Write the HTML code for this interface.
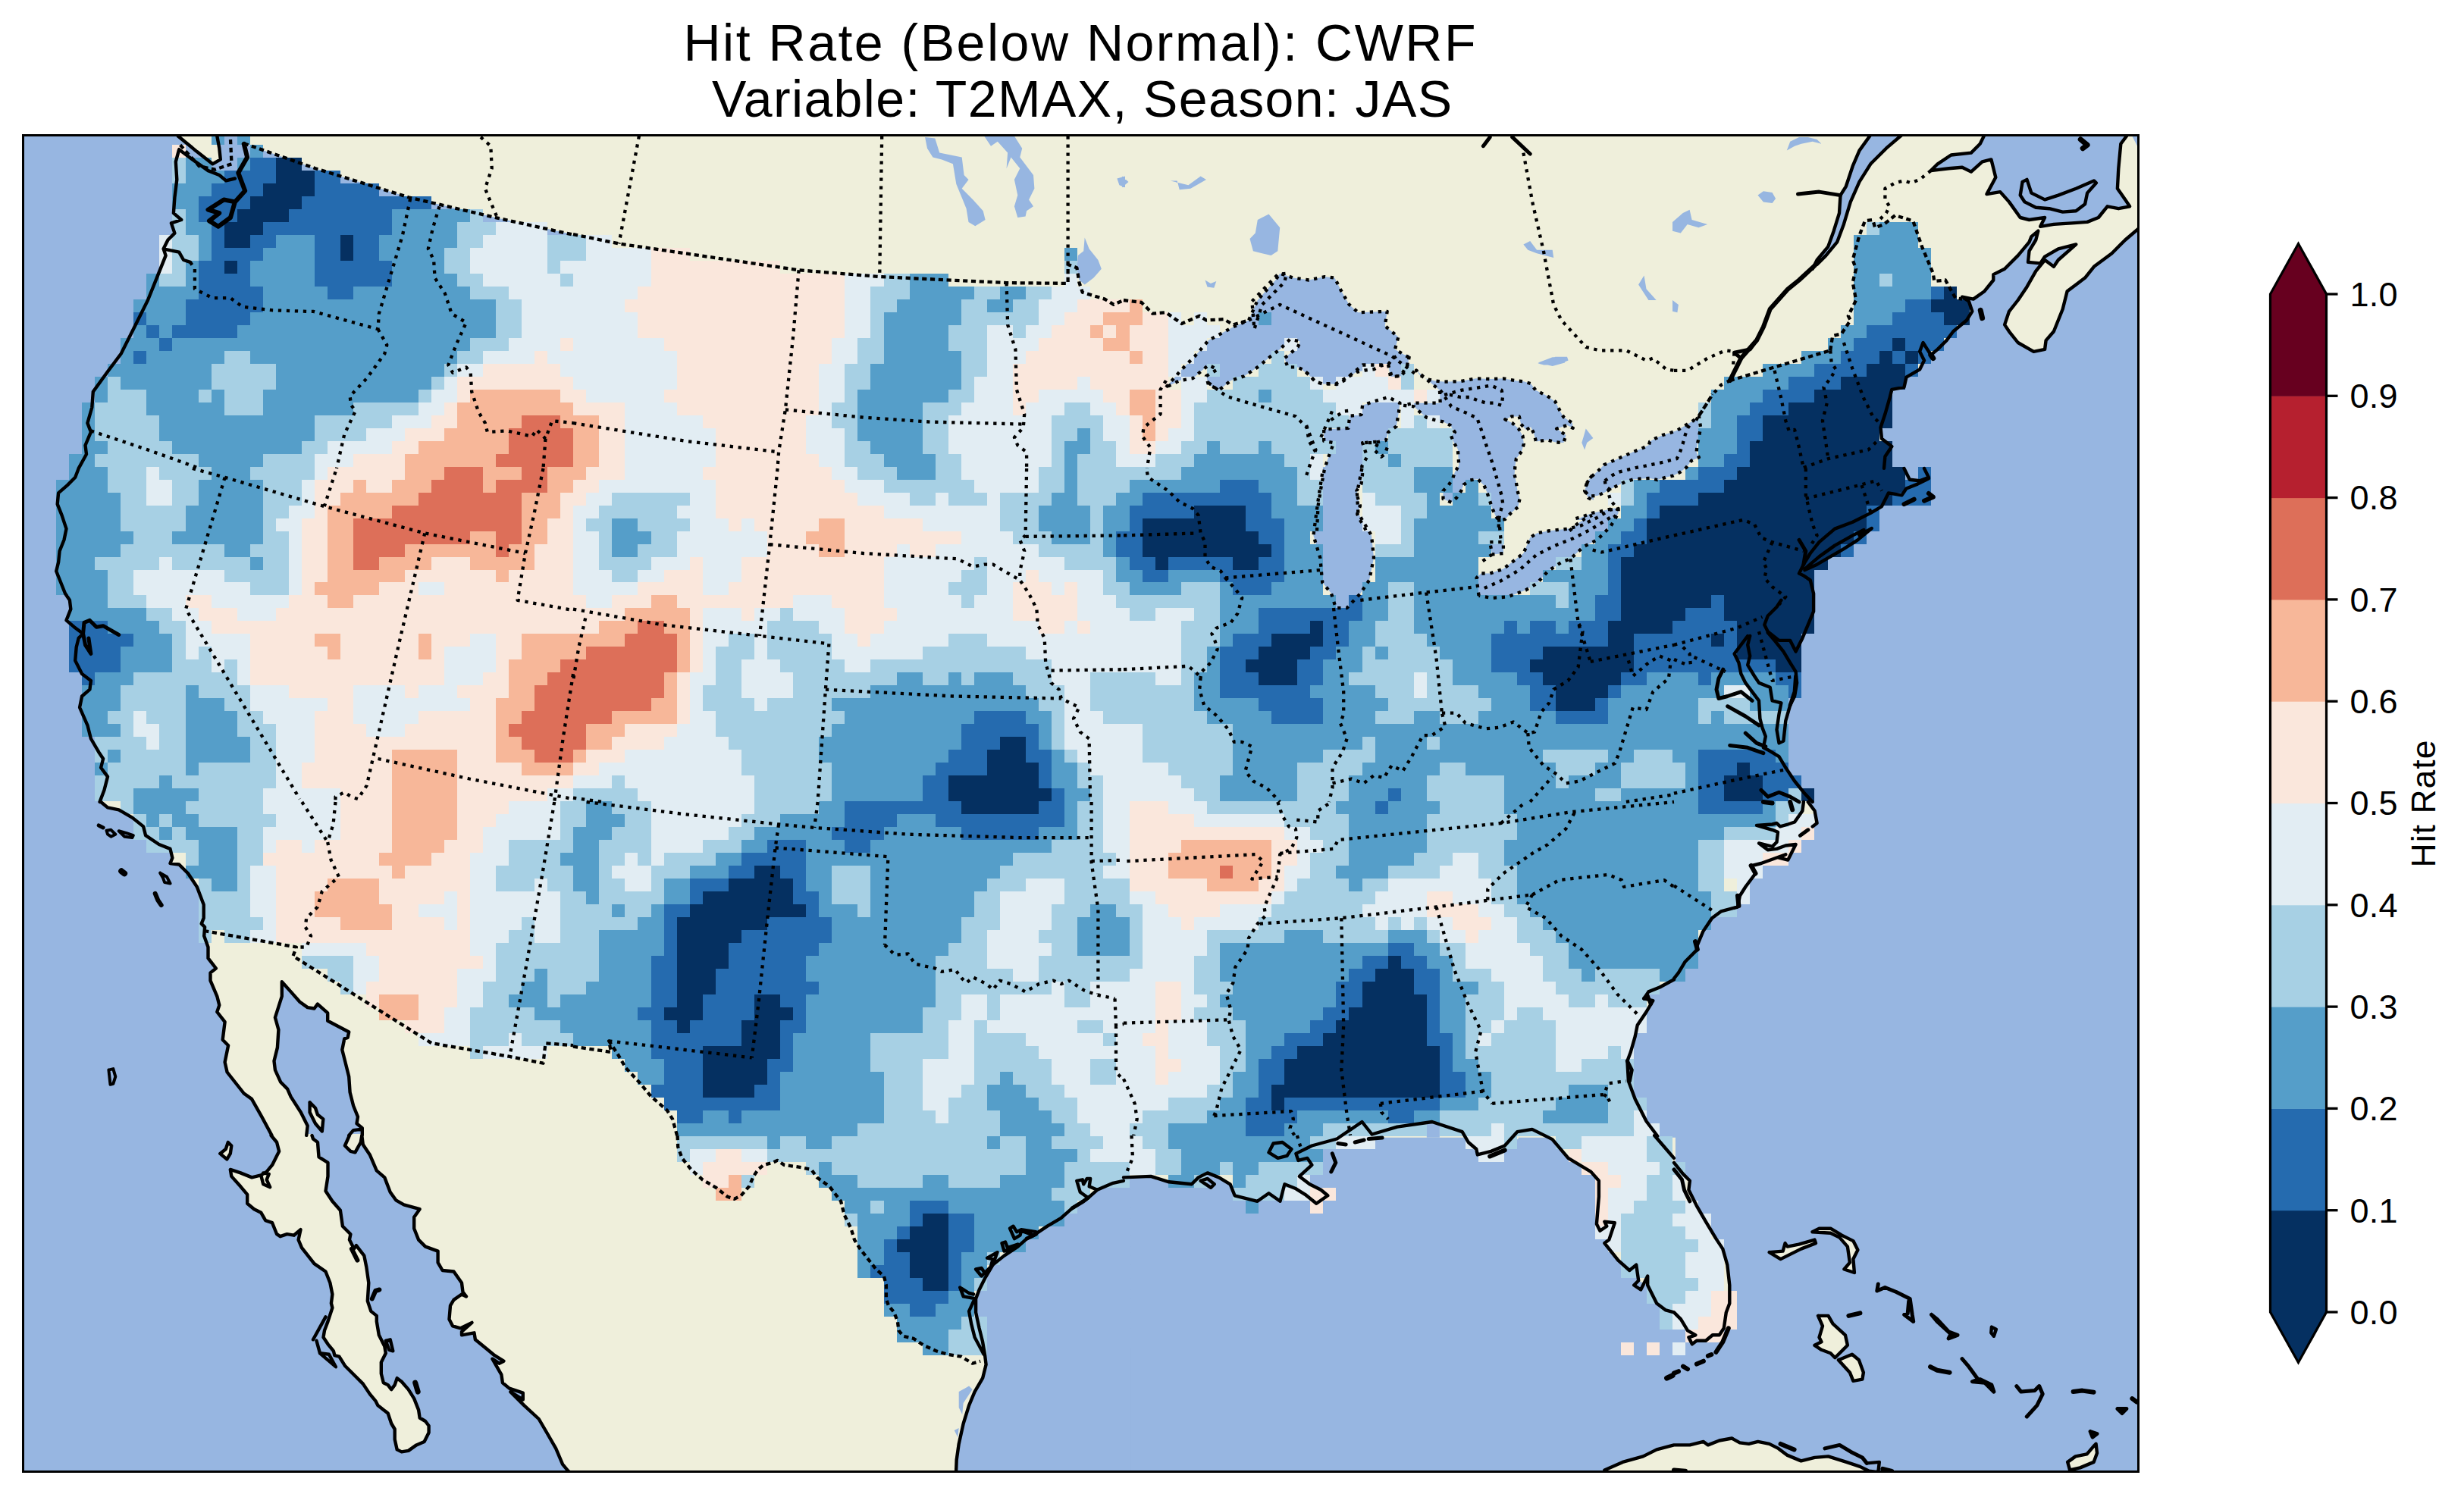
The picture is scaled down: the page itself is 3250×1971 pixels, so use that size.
<!DOCTYPE html>
<html><head><meta charset="utf-8"><title>Hit Rate</title>
<style>
html,body{margin:0;padding:0;background:#fff}
body{width:3250px;height:1971px;position:relative;overflow:hidden}
text{font-family:"Liberation Sans",sans-serif;fill:#000}
.tk{font-size:45px}
.lb{font-size:44.5px}
.tt{font-size:68px}
</style></head><body>
<svg width="3250" height="1971" viewBox="0 0 3250 1971" style="position:absolute;left:0;top:0">
<defs><clipPath id="ax"><rect x="30.5" y="178.5" width="2790.0" height="1763.0"/></clipPath></defs>
<g clip-path="url(#ax)">
<rect x="30.5" y="178.5" width="2790.0" height="1763.0" fill="#97b6e1"/>
<path fill="#efefdb" d="M1858.8 468L2102 468L2102 702.3L1977.6 702.3L1977.6 685.9L1954.4 562.5L1905.1 531.7L1874.2 508.6L1868.1 488.5ZM1905.1 520.9L1928.2 514.7L1948.3 511.6L1966.8 508.6L1980.6 514.7L1982.2 522.4L1980.6 534.8L1969.8 531.7L1960.6 531.7L1949.8 528.6L1939 524L1926.7 524L1912.8 520.9ZM2038 518L2312 518L2312 686L2038 686ZM286.3 176L289.3 195.7L290.8 210.4L280.4 216.3L259.8 200.1L234.8 176ZM321.7 176L758 176L758 309.7L656.1 287.6L539.7 260.5L416 222.2L321.7 189.2ZM758 1056L758 1499.9L477.8 1499.9L477.8 1488.2L470.5 1482.3L472 1473.4L466.1 1458.7L461.6 1441L460.2 1420.4L455.8 1402.7L451.3 1385L454.3 1370.3L458.7 1368.8L460.2 1361.5L432.2 1346.7L432.2 1336.4L418.9 1324.6L414.5 1330.5L405.7 1329.1L395.4 1321.7L383.6 1308.4L371.8 1295.2L371.8 1314.3L362.9 1342.3L367.4 1358.5L365.9 1382.1L361.5 1399.8L362.9 1411.6L370.3 1427.8L379.1 1436.6L383.6 1446.9L396.8 1467.5L405.7 1485.2L404.2 1499.9L358.5 1499.9L345.3 1473.4L332 1449.9L321.7 1442.5L299.6 1414.5L296.6 1401.3L301.1 1379.2L293.7 1371.8L296.6 1348.2L286.3 1335L289.3 1326.1L286.3 1314.3L277.5 1293.7L277.5 1283.4L284.9 1277.5L274.5 1264.2L274.5 1249.5L269.2 1234.8L270.1 1223L265.7 1218.6L268.7 1211.2L268.7 1193.5L259.8 1170L248 1152.3L236.2 1140.5L224.5 1139L227.4 1131.7L224.5 1119.9L209.7 1114L192.1 1102.2L189.1 1090.4L174.4 1078.6L156.7 1068.3L142 1065.4L133.1 1056ZM408.6 1454.3L416 1461.7L418.9 1470.5L426.3 1476.4L424.8 1492.6L416 1482.3L408.6 1467.5ZM269.2 1231.8L390.9 1252.5L386.5 1262.8L569.2 1379.2L672.3 1396.8L716.5 1405.7L720.9 1380.6L758 1382.1L758 1499.9L477.8 1499.9L477.8 1488.2L470.5 1482.3L472 1473.4L466.1 1458.7L461.6 1441L460.2 1420.4L455.8 1402.7L451.3 1385L454.3 1370.3L458.7 1368.8L460.2 1361.5L432.2 1346.7L432.2 1336.4L418.9 1324.6L414.5 1330.5L405.7 1329.1L395.4 1321.7L383.6 1308.4L371.8 1295.2L371.8 1314.3L362.9 1342.3L367.4 1358.5L365.9 1382.1L361.5 1399.8L362.9 1411.6L370.3 1427.8L379.1 1436.6L383.6 1446.9L396.8 1467.5L405.7 1485.2L404.2 1499.9L358.5 1499.9L345.3 1473.4L332 1449.9L321.7 1442.5L299.6 1414.5L296.6 1401.3L301.1 1379.2L293.7 1371.8L296.6 1348.2L286.3 1335L289.3 1326.1L286.3 1314.3L277.5 1293.7L277.5 1283.4L284.9 1277.5L274.5 1264.2L274.5 1249.5ZM411.5 1496L413 1502.5L419 1507L420.5 1526.4L432.5 1533.9L432.5 1551.9L429.5 1571.3L438.4 1584.8L448.9 1596.7L451.9 1617.7L462.4 1628.2L460.9 1635.6L466.9 1647.6L469.9 1643.1L480.3 1656.6L483.3 1671.5L486.3 1692.5L484.8 1716.4L489.3 1729.9L496.8 1735.9L496.8 1743.4L499.8 1761.3L507.3 1776.3L508.8 1785.3L502.8 1797.2L502.8 1812.2L505.8 1824.2L511.7 1827.1L516.2 1833.1L520.7 1827.1L523.7 1818.2L529.7 1822.7L538.7 1833.1L546.2 1845.1L552.1 1860.1L553.6 1870.5L561.1 1875L565.6 1881L565.6 1890L559.6 1901.9L549.2 1906.4L538.7 1913.9L529.7 1915.4L523.7 1912.4L520.7 1899L520.7 1885.5L516.2 1878L511.7 1864.5L498.3 1854.1L495.3 1848.1L487.8 1839.1L478.8 1825.6L466.9 1813.7L454.9 1801.7L447.4 1789.7L441.4 1788.2L439.9 1782.3L432.5 1773.3L426.5 1764.3L428 1755.3L432.5 1743.4L438.4 1725.4L436.9 1719.4L438.4 1707.5L435.4 1692.5L429.5 1677.5L414.5 1667.1L398 1646.1L393.6 1635.6L396.5 1622.2L387.6 1629.7L378.6 1628.2L369.6 1631.2L365.1 1628.2L359.1 1613.2L350.2 1610.2L344.2 1599.7L335.2 1595.2L326.2 1587.8L326.2 1575.8L317.3 1565.3L305.3 1551.9L303.8 1542.9L317.3 1547.4L332.2 1553.4L344.2 1550.4L351.7 1545.9L359.1 1536.9L368.1 1518.9L365.1 1507L357.6 1496ZM757.9 1496L757.9 1947L749.6 1940.8L742.1 1931.9L733.2 1910.9L721.2 1890L710.7 1872L691.3 1854.1L673.3 1836.1L689.8 1846.6L689.8 1837.6L671.8 1831.6L662.9 1824.2L661.4 1813.7L649.4 1792.7L658.4 1798.7L664.4 1795.7L652.4 1788.2L643.4 1780.8L626.9 1767.3L625.5 1758.3L609 1761.3L609 1756.8L622.5 1744.9L607.5 1752.3L597 1749.3L592.5 1740.4L594 1722.4L598.5 1714.9L609 1707.5L615 1710.4L610.5 1704.5L609 1692.5L598.5 1677.5L583.6 1676L577.6 1665.6L577.6 1650.6L561.1 1644.6L552.1 1635.6L546.2 1620.7L546.2 1605.7L553.6 1595.2L532.7 1589.3L522.2 1583.3L514.7 1572.8L507.3 1553.4L496.8 1544.4L487.8 1523.4L478.8 1510L477.3 1496ZM477.3 1496L475.8 1507L468.4 1520.4L462.4 1518.9L454.9 1511.5L460.9 1496ZM305.3 1511.5L303.8 1521.9L299.3 1529.4L290.3 1521.9L297.8 1516L300.8 1507ZM754 176L1484 176L1484 620.8L754 620.8ZM754 176L1484 176L1484 396L1469 401.9L1457.2 394.6L1426.3 384.2L1420.4 354.8L1420.4 325.3L1402.7 325.3L1402.7 373.9L1327.6 373.1L1161.1 365.1L1053.6 356.3L816.4 321.5L754 309.1ZM754 616L1484 616L1484 1060.8L754 1060.8ZM754 1056L1484 1056L1484 1500.8L754 1500.8ZM754 1380.6L806.1 1388L814.9 1390.9L825.2 1408.6L844.4 1429.2L859.1 1446.9L879.7 1464.6L887.1 1476.4L893 1500.8L754 1500.8ZM754 1496L1483.9 1496L1483.9 1947L754 1947ZM1480 176L2210 176L2210 620.8L1480 620.8ZM1480 176L2210 176L2210 619.9L1968.2 619.9L1947.5 561L1918.1 525.7L1873.9 502.1L1870.9 496.2L1835.6 469.7L1688.2 401.9L1647 422.5L1626.4 428.4L1614.6 421.1L1591 422.5L1582.2 416.7L1558.6 427L1538 412.2L1520.3 413.7L1505.6 399L1480 396ZM1480 616L2210 616L2210 1060.8L1480 1060.8ZM1991.7 674L2003.5 656.3L2006.5 616L2130.2 616L2115.5 623.9L2097.8 632.7L2089 647.5L2100.7 656.3L2119.9 650.4L2127.3 656.3L2134.6 671L2124.3 672.5L2106.6 682.8L2086 693.1L2068.3 697.6L2041.8 700.5L2027.1 703.4L2018.2 709.3L2009.4 730L1982.9 750.6L1965.2 756.5L1953.4 756.5L1953.4 741.7L1968.2 732.9L1982.9 715.2L1979.9 684.3ZM1480 1056L2210 1056L2210 1500.8L1480 1500.8ZM1480 1496L1784.2 1496L1763.3 1502.5L1730.4 1511.5L1709.4 1521.9L1712.4 1530.9L1724.4 1527.9L1730.4 1536.9L1713.9 1551.9L1727.4 1562.3L1742.3 1569.8L1751.3 1577.3L1736.3 1587.8L1721.4 1575.8L1709.4 1568.3L1694.4 1562.3L1688.5 1584.8L1673.5 1574.3L1658.5 1584.8L1628.6 1577.3L1622.6 1562.3L1607.7 1553.4L1592.7 1547.4L1580.7 1553.4L1571.8 1562.3L1541.8 1559.3L1517.9 1551.9L1480 1553.4ZM2004.1 1496L2002.6 1502.5L1984.7 1511.5L1966.7 1518.9L1948.8 1521.9L1936.8 1507L1927.8 1496ZM2209.9 1496L2209.9 1731.4L2185.2 1719.4L2173.2 1695.5L2161.2 1689.5L2158.2 1668.6L2149.3 1676L2134.3 1662.6L2116.4 1640.1L2122.3 1635.6L2129.8 1613.2L2116.4 1611.7L2119.3 1617.7L2110.4 1623.7L2105.9 1614.7L2108.9 1578.8L2108.9 1557.8L2098.4 1545.9L2068.5 1527.9L2038.6 1496ZM2116.4 1939.4L2140.3 1928.9L2167.2 1921.4L2185.2 1912.4L2209.9 1906.4L2209.9 1947L2116.4 1947ZM2206 176L2820.6 176L2820.6 619.9L2206 619.9ZM2589.6 354.8L2644.1 354.8L2629.3 362.1L2629.3 369.5L2617.5 384.2L2602.8 394.6L2589.6 391.6ZM2667.6 239.9L2673.5 236.9L2679.4 254.6L2697.1 263.4L2714.8 257.6L2738.3 248.7L2761.9 238.4L2764.9 241.3L2753.1 254.6L2750.1 269.3L2738.3 278.2L2720.7 279.6L2703 275.2L2685.3 273.8L2670.6 266.4L2664.7 257.6ZM2206 1056L2384.8 1056L2393.6 1069.8L2396.6 1086L2368.6 1114L2358.3 1134.6L2322.9 1139L2315.5 1152.3L2302.3 1170L2294.9 1181.7L2292 1196.5L2269.9 1202.4L2258.1 1211.2L2246.3 1228.9L2238.9 1246.6L2237.5 1253.9L2222.7 1268.7L2213.9 1283.4L2206 1290.8ZM2206 1533.9L2220 1548.9L2228.9 1557.8L2227.4 1569.8L2237.9 1590.8L2249.9 1611.7L2263.4 1634.1L2272.3 1647.6L2278.3 1668.6L2281.3 1695.5L2281.3 1719.4L2276.8 1731.4L2273.8 1752.3L2267.8 1761.3L2258.9 1761.3L2249.9 1768.8L2237.9 1768.8L2231.9 1773.3L2227.4 1764.3L2226 1755.3L2217 1740.4L2206 1731.4ZM2206 1906.4L2228.9 1906.4L2246.9 1901.9L2252.9 1906.4L2267.8 1900.5L2284.3 1897.5L2294.8 1903.4L2306.7 1904.9L2318.7 1901.9L2333.7 1904.9L2345.6 1910.9L2357.6 1919.9L2375.6 1927.4L2393.5 1922.9L2411.5 1921.4L2435.4 1928.9L2453.4 1934.9L2465.3 1940.8L2495.3 1947L2206 1947ZM2351.6 1650.6L2354.6 1640.1L2357.6 1644.6L2372.6 1641.6L2393.5 1635.6L2395 1640.1L2375.6 1647.6L2348.6 1661.1L2333.7 1652.1ZM2390.5 1625.2L2399.5 1620.7L2414.5 1620.7L2429.4 1629.7L2444.4 1637.1L2450.4 1649.1L2444.4 1661.1L2445.9 1679L2432.4 1674.5L2439.9 1665.6L2436.9 1644.6L2426.4 1632.6L2414.5 1626.7ZM2398 1735.9L2411.5 1735.9L2417.5 1746.4L2433.9 1761.3L2436.9 1774.8L2420.4 1791.2L2414.5 1785.3L2402.5 1780.8L2393.5 1774.8L2402.5 1770.3L2399.5 1764.3L2404 1749.3ZM2424.9 1794.2L2442.9 1786.7L2451.9 1794.2L2457.9 1810.7L2456.4 1819.7L2444.4 1821.8L2439.9 1810.7ZM2727.2 1928.9L2737.6 1921.4L2752.6 1918.4L2761.6 1907.9L2764.6 1904.9L2766 1916.9L2761.6 1928.9L2743.6 1936.4L2730.1 1939.4Z"/>
<path fill="#97b6e1" d="M1718 468L1858.8 468L1857.3 479.3L1854.2 488.5L1848 496.2L1834.1 497L1831 480.8L1821.8 482.3L1812.5 487L1800.2 488.5L1789.4 490.8L1780.1 496.2L1772.4 502.4L1763.2 507L1753.2 506.2L1743.1 506.2L1734.7 503.2L1727.7 495.4L1718 488.5ZM1737 702.3L1738.5 667.4L1743.1 639.6L1747 618.8L1752.4 602.6L1759.3 584.1L1746.2 581.8L1746.2 566.4L1778.6 564.8L1780.1 548.7L1795.6 547.1L1797.1 534.8L1812.5 529.4L1831 524L1846.5 531.7L1844.9 544L1841.8 562.5L1831 570.2L1828 581L1812.5 584.1L1797.1 584.1L1803.3 602.6L1796.3 615L1797.1 625.8L1795.6 638.1L1789.4 647.4L1790.9 656.6L1794 667.4L1790.2 678.2L1794.8 687.5L1800.2 696.7L1801.7 702.3ZM1865 531.7L1899.7 531.7L1898.9 514.7L1881.9 500.8L1868.1 488.5L1872.7 494.7L1881.9 500.1L1892.7 502.4L1903.5 503.6L1925.1 503.2L1946.7 499.3L1966.8 500.1L1982.2 499.3L2000.7 502.4L2009.9 503.2L2019.2 506.2L2025.4 514.7L2040.8 522.4L2051.6 530.1L2057.8 542.5L2062.4 550.2L2073.9 557.9L2074.7 564.8L2067 561L2053.1 565.6L2065.5 574.1L2062.4 584.1L2051.6 583.4L2040.8 580.3L2026.1 582.6L2023.1 571.8L2019.2 563.3L2013 567.2L2006.1 559.5L2003.8 549.4L1993.8 549.4L1985.3 553.3L1994.5 557.9L2003 565.6L2008.4 574.9L2009.9 585.7L2006.9 595.7L1999.9 604.9L1998.4 615L1997.6 625.8L1999.9 636.6L2001.5 647.4L2004.5 658.2L2002.2 669L1993 676.7L1985.3 685.1L1976.8 685.9L1972.9 681.3L1968.3 670.5L1965.2 661.2L1961.4 649.7L1957.5 640.4L1949 631.9L1939 633.5L1930.5 639.6L1927.4 647.4L1921.3 656.6L1914.3 662.8L1903.5 658.2L1903.5 647.4L1910.5 640.4L1915.9 631.9L1919 622.7L1924.3 614.2L1923.6 603.4L1922.8 592.6L1917.4 583.4L1913.6 574.1L1919 570.2L1912.8 561L1903.5 556.4L1892.7 554.1L1881.9 551L1874.2 544.8L1865 536.3L1851.1 534.8ZM2070.1 702.3L2079.3 692.1L2090.1 684.4L2102 679.7L2102 702.3ZM2102 659.7L2094.8 656.6L2090.1 647.4L2094.8 633.5L2102 627.3ZM2091.7 565.6L2101.4 578L2093.2 584.1L2090.1 593.4L2086.3 584.1L2088.6 576.4ZM2028.5 479.3L2040.8 474.6L2051.6 470.8L2067 470.8L2068.6 475.4L2059.3 479.3L2047 481.6L2036.2 481.6ZM2092.7 637.5L2099.3 628.7L2108.1 621L2115.7 613.3L2125.6 608.9L2135.5 604.5L2145.4 600.1L2155.3 595.7L2165.1 591.9L2175 587L2176.1 582.6L2183.8 578.2L2193.7 573.8L2201.4 571.6L2211.2 568.3L2222.2 561.7L2233.2 555.1L2240.9 548.5L2243.1 563.9L2240.9 577.1L2238.7 585.9L2237.6 596.8L2240.9 603.4L2231 607.8L2224.4 616.6L2215.6 623.2L2206.8 627.6L2197 629.8L2186 633.1L2176.1 630.9L2165.1 631.4L2154.2 632.5L2143.2 635.8L2133.3 640.7L2123.4 645.7L2116.8 649.5L2107 653.9L2096 654.5L2090.5 647.9ZM2078.4 686L2088.3 681.4L2099.3 677L2110.3 674.8L2120.1 672.6L2130 670.4L2134.4 672.6L2130 681.4L2125.6 686ZM1220.1 180.9L1233.3 182.4L1239.2 201.6L1253.9 204.5L1268.7 207.5L1271.6 231L1277.5 236.9L1268.7 248.7L1283.4 263.4L1296.7 278.2L1299.6 290L1286.3 298.2L1277.5 292.9L1274.6 275.2L1261.3 242.8L1256.9 216.3L1242.2 210.4L1230.4 207.5L1223 195.7ZM1298.1 179.5L1337.9 179.5L1348.2 195.7L1345.3 207.5L1363 231L1364.4 248.7L1357.1 263.4L1363 272.3L1354.1 278.2L1352.6 285.5L1342.3 287L1337.9 272.3L1342.3 257.6L1337.9 236.9L1345.3 222.2L1333.5 207.5L1327.6 222.2L1329.1 201.6L1315.8 186.8L1307 192.7ZM1430.7 313.5L1436.6 328.3L1448.4 343L1452.8 354.8L1442.5 366.6L1430.7 375.4L1423.4 369.5L1420.4 354.8L1421.9 337.1L1429.2 331.2ZM1473.4 235.5L1484 232.5L1484 247.2L1476.4 244.3ZM1491.1 1947L1261.1 1947L1261.7 1925.9L1264.7 1904.9L1270.7 1878L1278.1 1854.1L1285.6 1836.1L1296.1 1818.2L1300.6 1800.2L1299.1 1788.2L1296.1 1770.3L1291.6 1752.3L1287.1 1731.4L1287.1 1713.4L1291.6 1701.5L1299.1 1686.5L1309.6 1668.6L1324.5 1656.6L1342.5 1644.6L1354.4 1634.1L1363.4 1629.7L1381.4 1617.7L1399.3 1607.2L1414.3 1593.8L1435.2 1580.3L1447.2 1569.8L1468.1 1560.8L1491.1 1556.3ZM1264.7 1836.1L1278.1 1828.6L1282.6 1833.1L1270.7 1851.1L1269.2 1866L1264.7 1857.1ZM1258.7 1887L1264.7 1884L1263.2 1896ZM1538 510.9L1558.6 487.4L1576.3 469.7L1594 449.1L1626.4 431.4L1647 422.5L1658.8 396L1682.4 369.5L1688.2 360.7L1705.9 366.6L1726.5 369.5L1747.2 365.1L1760.4 366.6L1769.3 384.2L1779.6 401.9L1791.4 412.2L1829.7 410.8L1826.7 429.9L1844.4 444.6L1840 460.9L1857.7 471.2L1856.2 481.5L1847.4 496.2L1835.6 496.2L1831.1 481.5L1814.9 481.5L1797.3 481.5L1779.6 496.2L1761.9 506.5L1744.2 506.5L1734.5 503L1728 496.2L1720.1 488.5L1711.8 484.4L1698.6 484.4L1694.1 472.6L1711.8 457.9L1714.8 450.5L1701.5 447.6L1688.2 460.9L1676.5 469.7L1658.8 484.4L1641.1 496.2L1623.4 502.1L1608.7 513.9L1594 508L1591 496.2L1605.7 487.4L1594 481.5L1573.3 499.2L1555.7 502.1ZM1658.8 290L1673.5 282.6L1688.2 300.3L1685.3 331.2L1676.5 337.1L1664.7 334.2L1652.9 331.2L1648.5 315L1655.8 307.6ZM1567.4 244.3L1583.6 232.5L1591 236.9L1570.4 248.7L1555.7 250.2L1552.7 238.4L1543.9 238.4ZM2009.4 322.4L2018.2 318L2027.1 329.7L2047.7 329.7L2049.2 340.1L2027.1 334.2L2015.3 329.7ZM2028.6 478.5L2047.7 471.2L2066.9 471.2L2063.9 478.5L2047.7 482.9ZM2168.5 363.6L2171.5 381.3L2184.7 396L2174.4 396L2161.1 375.4ZM1589.5 369.5L1596.9 373.9L1604.3 371L1601.3 379.8L1592.5 378.4ZM1480 232.5L1488.5 239.9L1480 247.2ZM1745.1 616L1796.4 616L1789.9 650.4L1791.4 676.9L1809 706.4L1812 735.9L1806.1 765.3L1794.3 783L1776.6 802.1L1761.9 802.1L1756 783L1744.2 768.3L1741.3 735.9L1732.4 706.4L1738.3 662.2ZM1950.5 785.9L1947.5 762.4L1953.4 756.5L1965.2 756.5L1982.9 750.6L2009.4 730L2018.2 709.3L2027.1 703.4L2041.8 700.5L2068.3 697.6L2086 693.1L2106.6 682.8L2124.3 672.5L2134.6 671L2134.6 676.9L2124.3 694.6L2106.6 712.3L2089 721.1L2071.3 737.3L2059.5 741.7L2041.8 753.5L2027.1 769.7L2012.3 778.6L1988.8 787.4L1968.2 788.9ZM1965.2 715.2L1982.9 715.2L1982.9 730L1968.2 731.4ZM2210 1500.8L2186.2 1500.8L2171.5 1479.3L2156.7 1449.9L2147.9 1426.3L2146.4 1399.8L2150.8 1388L2156.7 1367.4L2159.7 1352.6L2171.5 1335L2180.3 1320.2L2168.5 1317.3L2174.4 1308.4L2189.1 1302.5L2210 1292.2ZM1881.8 1481.7L1898.9 1481.7L1898.9 1500.8L1881.8 1500.8ZM2485 619.9L2486.4 602.3L2495.3 589L2482 578.7L2480.5 564L2486.4 546.3L2492.3 525.7L2495.3 513.9L2511.5 510.9L2514.4 497.7L2532.1 487.4L2538 475.6L2532.1 463.8L2536.5 452L2546.8 468.2L2555.7 460.9L2567.5 449.1L2576.3 437.3L2594 422.5L2601.3 410.8L2596.9 397.5L2588.1 391.6L2602.8 394.6L2617.5 384.2L2629.3 369.5L2629.3 362.1L2644.1 354.8L2661.7 337.1L2676.5 319.4L2679.4 312.1L2688.3 304.7L2685.3 316.5L2676.5 331.2L2675 345.9L2691.2 347.4L2697.1 338.6L2714.8 328.3L2738.3 322.4L2714.8 343L2708.9 351.8L2697.1 343L2685.3 357.7L2673.5 378.4L2661.7 396L2650 410.8L2644.1 428.4L2650 437.3L2661.7 452L2682.4 463.8L2697.1 460.9L2698.6 449.1L2708.9 437.3L2720.7 407.8L2726.6 384.2L2738.3 375.4L2750.1 366.6L2761.9 351.8L2785.5 334.2L2803.2 316.5L2820.6 301.7L2820.6 619.9ZM2806.1 176L2797.3 189.8L2794.3 222.2L2792.9 248.7L2803.2 263.4L2809.1 272.3L2794.3 275.2L2779.6 272.3L2767.8 287L2753.1 292.9L2732.5 294.4L2708.9 295.9L2691.2 298.8L2697.1 287L2676.5 290L2664.7 287L2650 266.4L2638.2 253.1L2620.5 256.1L2632.3 234L2626.4 210.4L2614.6 213.4L2599.9 226.6L2588.1 220.7L2570.4 222.2L2546.8 225.1L2555.7 216.3L2573.4 204.5L2599.9 201.6L2611.7 189.8L2617.5 176ZM2508.5 176L2487.9 195.7L2467.3 216.3L2452.5 239.9L2440.8 266.4L2431.9 295.9L2423.1 319.4L2408.4 337.1L2396.6 348.9L2396.6 343L2411.3 325.3L2418.7 304.7L2426 281.1L2427.5 257.6L2434.9 245.8L2443.7 219.2L2452.5 198.6L2467.3 176ZM2810.5 176L2820.6 176L2820.6 195.7ZM2318.5 257.6L2325.9 252.2L2337.6 254L2342.1 262L2337.6 267.9L2325.9 266.4ZM2206 292.9L2219.8 281.1L2228.6 276.7L2231.6 290L2252.2 295.9L2240.4 300.3L2225.7 295.9L2216.8 307.6L2206 304.7ZM2356.8 198.6L2361.2 186.8L2373 180.9L2384.8 180.9L2396.6 183.9L2402.5 189.8L2390.7 186.8L2375.9 189.8L2367.1 192.7ZM2206 396L2213.9 401.9L2212.4 412.2L2206 410.8Z"/>
<g shape-rendering="crispEdges">
<path fill="#053061" d="M364 208h34v17h-34zM364 225h51v17h-51zM347 242h68v17h-68zM330 259h68v17h-68zM313 276h68v17h-68zM296 293h51v17h-51zM296 310h34v17h-34zM449 310h17v17h-17zM449 327h17v17h-17zM296 344h17v17h-17zM2564 378h17v17h-17zM2547 395h51v17h-51zM2564 412h34v17h-34zM2496 446h17v17h-17zM2479 463h17v17h-17zM2513 463h17v17h-17zM2462 480h51v17h-51zM2428 497h85v17h-85zM2393 514h103v17h-103zM2359 531h137v17h-137zM2325 548h171v17h-171zM2325 565h154v17h-154zM2308 582h188v17h-188zM2308 599h188v17h-188zM2291 616h222v17h-222zM2274 633h239v17h-239zM2240 650h256v17h-256zM1575 667h68v17h-68zM2189 667h273v17h-273zM1507 684h136v17h-136zM2172 684h290v17h-290zM1507 701h153v17h-153zM2172 701h273v17h-273zM1507 718h170v17h-170zM2155 718h273v17h-273zM1524 735h17v17h-17zM1626 735h34v17h-34zM2138 735h273v17h-273zM2138 752h255v16h-255zM2138 768h255v17h-255zM2138 785h119v17h-119zM2274 785h119v17h-119zM2138 802h85v17h-85zM2274 802h119v17h-119zM1728 819h17v17h-17zM2121 819h85v17h-85zM2291 819h102v17h-102zM1677 836h68v17h-68zM2121 836h34v17h-34zM2257 836h17v17h-17zM2291 836h85v17h-85zM1660 853h68v17h-68zM2035 853h120v17h-120zM2291 853h85v17h-85zM1643 870h68v17h-68zM2018 870h137v17h-137zM2342 870h34v17h-34zM1660 887h51v17h-51zM2035 887h103v17h-103zM2052 904h69v17h-69zM2052 921h52v17h-52zM1319 972h34v17h-34zM1302 989h51v17h-51zM1302 1006h68v17h-68zM2291 1006h17v17h-17zM1251 1023h119v17h-119zM2274 1023h51v17h-51zM1251 1040h136v17h-136zM2274 1040h51v17h-51zM2376 1040h17v17h-17zM1268 1057h102v17h-102zM995 1142h34v17h-34zM961 1159h85v17h-85zM927 1176h119v17h-119zM910 1193h153v17h-153zM893 1210h119v17h-119zM893 1227h85v17h-85zM893 1244h68v17h-68zM893 1261h68v17h-68zM1831 1261h17v17h-17zM893 1278h51v17h-51zM1814 1278h51v17h-51zM893 1295h51v17h-51zM1797 1295h68v17h-68zM893 1312h34v17h-34zM995 1312h34v17h-34zM1797 1312h85v17h-85zM876 1329h51v17h-51zM995 1329h51v17h-51zM1779 1329h103v17h-103zM893 1346h17v17h-17zM978 1346h51v17h-51zM1762 1346h120v17h-120zM978 1363h51v17h-51zM1745 1363h137v17h-137zM927 1380h102v17h-102zM1711 1380h188v17h-188zM927 1397h85v17h-85zM1694 1397h205v17h-205zM927 1414h85v17h-85zM1694 1414h205v17h-205zM927 1431h68v17h-68zM1677 1431h222v17h-222zM1677 1448h17v17h-17zM1217 1601h34v17h-34zM1200 1618h51v17h-51zM1183 1635h68v17h-68zM1200 1652h51v17h-51zM1200 1669h51v17h-51zM1217 1686h34v17h-34z"/>
<path fill="#256baf" d="M330 208h34v17h-34zM296 225h68v17h-68zM415 225h34v17h-34zM279 242h68v17h-68zM415 242h85v17h-85zM262 259h68v17h-68zM398 259h171v17h-171zM262 276h51v17h-51zM381 276h136v17h-136zM279 293h17v17h-17zM347 293h170v17h-170zM279 310h17v17h-17zM330 310h34v17h-34zM415 310h34v17h-34zM466 310h34v17h-34zM279 327h68v17h-68zM415 327h34v17h-34zM466 327h34v17h-34zM262 344h34v17h-34zM313 344h17v17h-17zM415 344h102v17h-102zM262 361h68v17h-68zM415 361h102v17h-102zM262 378h85v17h-85zM432 378h34v17h-34zM2547 378h17v17h-17zM245 395h102v17h-102zM2513 395h34v17h-34zM176 412h17v17h-17zM245 412h85v17h-85zM2496 412h68v17h-68zM193 429h17v17h-17zM227 429h86v17h-86zM2462 429h119v17h-119zM210 446h17v17h-17zM2445 446h51v17h-51zM2513 446h51v17h-51zM176 463h17v17h-17zM2428 463h51v17h-51zM2496 463h17v17h-17zM2530 463h17v17h-17zM2393 480h69v17h-69zM2513 480h17v17h-17zM2359 497h69v17h-69zM2325 514h68v17h-68zM2308 531h51v17h-51zM2291 548h34v17h-34zM2291 565h34v17h-34zM2291 582h17v17h-17zM2274 599h34v17h-34zM2240 616h51v17h-51zM2530 616h17v17h-17zM1609 633h51v17h-51zM2189 633h85v17h-85zM2513 633h34v17h-34zM1507 650h170v17h-170zM2172 650h68v17h-68zM2496 650h51v17h-51zM1490 667h85v17h-85zM1643 667h34v17h-34zM2172 667h17v17h-17zM2462 667h17v17h-17zM1490 684h17v17h-17zM1643 684h51v17h-51zM2155 684h17v17h-17zM2462 684h17v17h-17zM1472 701h35v17h-35zM1660 701h34v17h-34zM2138 701h34v17h-34zM2445 701h17v17h-17zM1472 718h35v17h-35zM1677 718h17v17h-17zM2121 718h34v17h-34zM2428 718h17v17h-17zM1490 735h34v17h-34zM1541 735h85v17h-85zM1660 735h34v17h-34zM2121 735h17v17h-17zM1507 752h34v16h-34zM1609 752h85v16h-85zM2121 752h17v16h-17zM1626 768h51v17h-51zM2121 768h17v17h-17zM1779 785h18v17h-18zM2104 785h34v17h-34zM2257 785h17v17h-17zM1660 802h137v17h-137zM2104 802h34v17h-34zM2223 802h51v17h-51zM91 819h51v17h-51zM1660 819h68v17h-68zM1745 819h34v17h-34zM1984 819h17v17h-17zM2018 819h34v17h-34zM2069 819h52v17h-52zM2206 819h85v17h-85zM91 836h85v17h-85zM1626 836h51v17h-51zM1745 836h34v17h-34zM1967 836h154v17h-154zM2155 836h102v17h-102zM2274 836h17v17h-17zM91 853h68v17h-68zM1609 853h51v17h-51zM1728 853h34v17h-34zM1967 853h68v17h-68zM2155 853h136v17h-136zM91 870h68v17h-68zM1609 870h34v17h-34zM1711 870h34v17h-34zM1967 870h51v17h-51zM2155 870h187v17h-187zM108 887h17v17h-17zM1609 887h51v17h-51zM1711 887h34v17h-34zM2001 887h34v17h-34zM2138 887h34v17h-34zM2240 887h17v17h-17zM2342 887h34v17h-34zM1609 904h119v17h-119zM2018 904h34v17h-34zM2121 904h17v17h-17zM2359 904h17v17h-17zM1660 921h85v17h-85zM2018 921h34v17h-34zM2104 921h17v17h-17zM1285 938h68v17h-68zM1677 938h68v17h-68zM2052 938h69v17h-69zM1268 955h102v17h-102zM1268 972h51v17h-51zM1353 972h17v17h-17zM1251 989h51v17h-51zM1353 989h34v17h-34zM2240 989h102v17h-102zM1234 1006h68v17h-68zM1370 1006h17v17h-17zM2240 1006h51v17h-51zM2308 1006h51v17h-51zM1217 1023h34v17h-34zM1370 1023h17v17h-17zM2240 1023h34v17h-34zM2325 1023h51v17h-51zM1217 1040h34v17h-34zM1387 1040h17v17h-17zM1831 1040h17v17h-17zM2240 1040h34v17h-34zM2325 1040h34v17h-34zM1114 1057h154v17h-154zM1370 1057h34v17h-34zM1814 1057h17v17h-17zM2240 1057h85v17h-85zM1114 1074h69v17h-69zM1234 1074h170v17h-170zM1097 1091h69v17h-69zM1268 1091h102v17h-102zM1012 1108h51v17h-51zM1114 1108h34v17h-34zM978 1125h85v17h-85zM961 1142h34v17h-34zM1029 1142h34v17h-34zM910 1159h51v17h-51zM1046 1159h17v17h-17zM910 1176h17v17h-17zM1046 1176h34v17h-34zM876 1193h34v17h-34zM1063 1193h17v17h-17zM876 1210h17v17h-17zM1012 1210h85v17h-85zM876 1227h17v17h-17zM978 1227h119v17h-119zM876 1244h17v17h-17zM961 1244h119v17h-119zM1831 1244h34v17h-34zM859 1261h34v17h-34zM961 1261h102v17h-102zM1797 1261h34v17h-34zM1848 1261h34v17h-34zM859 1278h34v17h-34zM944 1278h119v17h-119zM1779 1278h35v17h-35zM1865 1278h34v17h-34zM859 1295h34v17h-34zM944 1295h136v17h-136zM1762 1295h35v17h-35zM1865 1295h34v17h-34zM859 1312h34v17h-34zM927 1312h68v17h-68zM1029 1312h34v17h-34zM1762 1312h35v17h-35zM1882 1312h17v17h-17zM841 1329h35v17h-35zM927 1329h68v17h-68zM1046 1329h17v17h-17zM1745 1329h34v17h-34zM1882 1329h17v17h-17zM859 1346h34v17h-34zM910 1346h68v17h-68zM1029 1346h34v17h-34zM1728 1346h34v17h-34zM1882 1346h17v17h-17zM859 1363h119v17h-119zM1029 1363h17v17h-17zM1694 1363h51v17h-51zM1882 1363h34v17h-34zM859 1380h68v17h-68zM1029 1380h17v17h-17zM1677 1380h34v17h-34zM1899 1380h17v17h-17zM876 1397h51v17h-51zM1012 1397h34v17h-34zM1660 1397h34v17h-34zM1899 1397h17v17h-17zM876 1414h51v17h-51zM1012 1414h17v17h-17zM1660 1414h34v17h-34zM1899 1414h34v17h-34zM859 1431h68v17h-68zM995 1431h34v17h-34zM1660 1431h17v17h-17zM1899 1431h34v17h-34zM876 1448h153v17h-153zM1643 1448h34v17h-34zM1694 1448h205v17h-205zM893 1465h34v17h-34zM961 1465h17v17h-17zM1643 1465h68v17h-68zM1831 1465h34v17h-34zM1643 1482h51v17h-51zM1200 1584h51v17h-51zM1200 1601h17v17h-17zM1251 1601h34v17h-34zM1183 1618h17v17h-17zM1251 1618h34v17h-34zM1166 1635h17v17h-17zM1251 1635h34v17h-34zM1166 1652h34v17h-34zM1251 1652h17v17h-17zM1148 1669h52v17h-52zM1251 1669h17v17h-17zM1166 1686h51v17h-51zM1251 1686h17v17h-17zM1166 1703h85v17h-85zM1200 1720h34v17h-34z"/>
<path fill="#559ec9" d="M279 174h17v17h-17zM313 174h17v17h-17zM330 191h17v17h-17zM245 208h34v17h-34zM313 208h17v17h-17zM245 225h51v17h-51zM227 242h52v17h-52zM227 259h35v17h-35zM245 276h17v17h-17zM517 276h103v17h-103zM245 293h34v17h-34zM517 293h86v17h-86zM2479 293h51v17h-51zM262 310h17v17h-17zM364 310h51v17h-51zM500 310h103v17h-103zM2445 310h85v17h-85zM262 327h17v17h-17zM347 327h68v17h-68zM500 327h86v17h-86zM1404 327h17v17h-17zM2445 327h102v17h-102zM245 344h17v17h-17zM330 344h85v17h-85zM517 344h69v17h-69zM2445 344h102v17h-102zM193 361h17v17h-17zM245 361h17v17h-17zM330 361h85v17h-85zM517 361h86v17h-86zM1200 361h51v17h-51zM2445 361h34v17h-34zM2496 361h51v17h-51zM193 378h69v17h-69zM347 378h85v17h-85zM466 378h154v17h-154zM1200 378h85v17h-85zM1319 378h34v17h-34zM2445 378h102v17h-102zM176 395h69v17h-69zM347 395h307v17h-307zM1183 395h85v17h-85zM1302 395h34v17h-34zM2445 395h68v17h-68zM193 412h52v17h-52zM330 412h324v17h-324zM1166 412h102v17h-102zM1660 412h17v17h-17zM2445 412h51v17h-51zM176 429h17v17h-17zM210 429h17v17h-17zM313 429h341v17h-341zM1166 429h85v17h-85zM2428 429h34v17h-34zM159 446h51v17h-51zM227 446h393v17h-393zM1166 446h85v17h-85zM2411 446h34v17h-34zM159 463h17v17h-17zM193 463h103v17h-103zM330 463h273v17h-273zM1166 463h102v17h-102zM2376 463h52v17h-52zM142 480h137v17h-137zM364 480h222v17h-222zM1148 480h120v17h-120zM2325 480h68v17h-68zM125 497h17v17h-17zM159 497h120v17h-120zM364 497h205v17h-205zM1148 497h120v17h-120zM2274 497h85v17h-85zM125 514h17v17h-17zM193 514h69v17h-69zM279 514h17v17h-17zM347 514h205v17h-205zM1131 514h120v17h-120zM1660 514h17v17h-17zM2257 514h68v17h-68zM108 531h17v17h-17zM193 531h103v17h-103zM347 531h119v17h-119zM1131 531h86v17h-86zM2257 531h51v17h-51zM108 548h17v17h-17zM210 548h205v17h-205zM1131 548h86v17h-86zM2257 548h34v17h-34zM108 565h17v17h-17zM210 565h205v17h-205zM1131 565h86v17h-86zM1421 565h17v17h-17zM2240 565h51v17h-51zM108 582h34v17h-34zM227 582h171v17h-171zM1148 582h69v17h-69zM1404 582h34v17h-34zM1592 582h17v17h-17zM1660 582h17v17h-17zM1814 582h17v17h-17zM2240 582h51v17h-51zM91 599h34v17h-34zM262 599h85v17h-85zM1166 599h68v17h-68zM1404 599h17v17h-17zM1575 599h119v17h-119zM1831 599h17v17h-17zM2240 599h34v17h-34zM91 616h51v17h-51zM279 616h51v17h-51zM1183 616h51v17h-51zM1404 616h17v17h-17zM1558 616h153v17h-153zM1865 616h51v17h-51zM2223 616h17v17h-17zM74 633h68v17h-68zM262 633h85v17h-85zM1404 633h17v17h-17zM1490 633h119v17h-119zM1660 633h51v17h-51zM1865 633h51v17h-51zM1933 633h17v17h-17zM2155 633h34v17h-34zM74 650h85v17h-85zM262 650h85v17h-85zM1387 650h34v17h-34zM1472 650h35v17h-35zM1677 650h34v17h-34zM1882 650h17v17h-17zM1916 650h34v17h-34zM2155 650h17v17h-17zM74 667h85v17h-85zM245 667h102v17h-102zM1370 667h68v17h-68zM1455 667h35v17h-35zM1677 667h68v17h-68zM1882 667h85v17h-85zM2138 667h34v17h-34zM74 684h85v17h-85zM245 684h102v17h-102zM807 684h34v17h-34zM1370 684h68v17h-68zM1455 684h35v17h-35zM1694 684h51v17h-51zM1865 684h119v17h-119zM2121 684h34v17h-34zM74 701h102v17h-102zM227 701h120v17h-120zM807 701h52v17h-52zM1387 701h51v17h-51zM1455 701h17v17h-17zM1694 701h34v17h-34zM1865 701h85v17h-85zM2104 701h34v17h-34zM74 718h85v17h-85zM296 718h34v17h-34zM807 718h34v17h-34zM1455 718h17v17h-17zM1694 718h51v17h-51zM1865 718h102v17h-102zM2086 718h35v17h-35zM74 735h51v17h-51zM330 735h17v17h-17zM1472 735h18v17h-18zM1694 735h51v17h-51zM1814 735h136v17h-136zM2086 735h35v17h-35zM74 752h68v16h-68zM1472 752h35v16h-35zM1541 752h68v16h-68zM1694 752h51v16h-51zM1814 752h136v16h-136zM2035 752h86v16h-86zM74 768h68v17h-68zM1490 768h68v17h-68zM1609 768h17v17h-17zM1677 768h68v17h-68zM1797 768h34v17h-34zM1865 768h85v17h-85zM2069 768h52v17h-52zM91 785h51v17h-51zM1609 785h153v17h-153zM1797 785h34v17h-34zM1865 785h187v17h-187zM2069 785h35v17h-35zM91 802h102v17h-102zM1609 802h51v17h-51zM1797 802h34v17h-34zM1865 802h239v17h-239zM142 819h68v17h-68zM1609 819h51v17h-51zM1779 819h35v17h-35zM1865 819h119v17h-119zM2001 819h17v17h-17zM2052 819h17v17h-17zM176 836h51v17h-51zM1609 836h17v17h-17zM1779 836h35v17h-35zM1882 836h85v17h-85zM159 853h68v17h-68zM1592 853h17v17h-17zM1762 853h35v17h-35zM1814 853h17v17h-17zM1899 853h68v17h-68zM159 870h68v17h-68zM1592 870h17v17h-17zM1745 870h52v17h-52zM1916 870h51v17h-51zM125 887h51v17h-51zM1183 887h34v17h-34zM1251 887h17v17h-17zM1285 887h51v17h-51zM1575 887h34v17h-34zM1745 887h34v17h-34zM1916 887h85v17h-85zM2172 887h68v17h-68zM2257 887h85v17h-85zM108 904h51v17h-51zM245 904h17v17h-17zM1148 904h205v17h-205zM1575 904h34v17h-34zM1728 904h86v17h-86zM1950 904h68v17h-68zM2138 904h136v17h-136zM2308 904h51v17h-51zM108 921h51v17h-51zM245 921h51v17h-51zM1097 921h273v17h-273zM1575 921h85v17h-85zM1745 921h86v17h-86zM1967 921h51v17h-51zM2121 921h119v17h-119zM2308 921h51v17h-51zM108 938h34v17h-34zM245 938h68v17h-68zM1114 938h171v17h-171zM1353 938h34v17h-34zM1592 938h85v17h-85zM1745 938h69v17h-69zM1865 938h34v17h-34zM1950 938h102v17h-102zM2121 938h119v17h-119zM2257 938h17v17h-17zM108 955h51v17h-51zM245 955h68v17h-68zM1097 955h171v17h-171zM1370 955h17v17h-17zM1626 955h733v17h-733zM245 972h85v17h-85zM1080 972h188v17h-188zM1370 972h17v17h-17zM1626 972h171v17h-171zM1814 972h68v17h-68zM1899 972h460v17h-460zM142 989h17v17h-17zM245 989h85v17h-85zM1080 989h171v17h-171zM1387 989h17v17h-17zM1626 989h119v17h-119zM1814 989h221v17h-221zM2121 989h34v17h-34zM2206 989h34v17h-34zM2342 989h17v17h-17zM125 1006h17v17h-17zM245 1006h17v17h-17zM1097 1006h137v17h-137zM1387 1006h34v17h-34zM1626 1006h85v17h-85zM1797 1006h102v17h-102zM1933 1006h119v17h-119zM2104 1006h34v17h-34zM2223 1006h17v17h-17zM210 1023h17v17h-17zM1097 1023h120v17h-120zM1387 1023h34v17h-34zM1609 1023h102v17h-102zM1779 1023h103v17h-103zM1984 1023h68v17h-68zM2069 1023h69v17h-69zM2223 1023h17v17h-17zM176 1040h86v17h-86zM1097 1040h120v17h-120zM1404 1040h34v17h-34zM1609 1040h102v17h-102zM1779 1040h52v17h-52zM1848 1040h34v17h-34zM1984 1040h120v17h-120zM2138 1040h102v17h-102zM176 1057h69v17h-69zM773 1057h34v17h-34zM1080 1057h34v17h-34zM1404 1057h17v17h-17zM1762 1057h52v17h-52zM1831 1057h68v17h-68zM1984 1057h256v17h-256zM2325 1057h17v17h-17zM193 1074h17v17h-17zM227 1074h35v17h-35zM773 1074h51v17h-51zM1029 1074h85v17h-85zM1183 1074h51v17h-51zM1404 1074h17v17h-17zM1779 1074h103v17h-103zM2001 1074h341v17h-341zM210 1091h17v17h-17zM245 1091h68v17h-68zM756 1091h51v17h-51zM995 1091h102v17h-102zM1166 1091h102v17h-102zM1370 1091h51v17h-51zM1779 1091h103v17h-103zM2001 1091h273v17h-273zM262 1108h51v17h-51zM756 1108h34v17h-34zM978 1108h34v17h-34zM1063 1108h51v17h-51zM1148 1108h239v17h-239zM1779 1108h103v17h-103zM1984 1108h256v17h-256zM262 1125h51v17h-51zM739 1125h51v17h-51zM944 1125h34v17h-34zM1063 1125h273v17h-273zM1779 1125h86v17h-86zM1984 1125h256v17h-256zM245 1142h68v17h-68zM756 1142h34v17h-34zM910 1142h51v17h-51zM1063 1142h34v17h-34zM1148 1142h171v17h-171zM1762 1142h69v17h-69zM2001 1142h239v17h-239zM279 1159h34v17h-34zM756 1159h34v17h-34zM876 1159h34v17h-34zM1063 1159h34v17h-34zM1148 1159h154v17h-154zM1779 1159h18v17h-18zM2001 1159h239v17h-239zM773 1176h17v17h-17zM876 1176h34v17h-34zM1080 1176h17v17h-17zM1148 1176h137v17h-137zM2001 1176h256v17h-256zM807 1193h17v17h-17zM859 1193h17v17h-17zM1080 1193h51v17h-51zM1148 1193h137v17h-137zM1438 1193h34v17h-34zM2018 1193h239v17h-239zM841 1210h35v17h-35zM1097 1210h171v17h-171zM1421 1210h69v17h-69zM2035 1210h222v17h-222zM790 1227h86v17h-86zM1097 1227h171v17h-171zM1421 1227h69v17h-69zM1694 1227h51v17h-51zM1831 1227h51v17h-51zM2052 1227h188v17h-188zM790 1244h86v17h-86zM1080 1244h171v17h-171zM1421 1244h69v17h-69zM1609 1244h222v17h-222zM1865 1244h34v17h-34zM2069 1244h171v17h-171zM790 1261h69v17h-69zM1063 1261h171v17h-171zM1609 1261h188v17h-188zM1882 1261h34v17h-34zM2069 1261h171v17h-171zM705 1278h17v17h-17zM790 1278h69v17h-69zM1063 1278h171v17h-171zM1609 1278h170v17h-170zM1899 1278h17v17h-17zM2086 1278h18v17h-18zM2189 1278h34v17h-34zM688 1295h34v17h-34zM773 1295h86v17h-86zM1080 1295h154v17h-154zM1626 1295h136v17h-136zM1899 1295h51v17h-51zM671 1312h51v17h-51zM739 1312h120v17h-120zM1063 1312h171v17h-171zM1609 1312h153v17h-153zM1899 1312h34v17h-34zM705 1329h136v17h-136zM1063 1329h154v17h-154zM1626 1329h119v17h-119zM1899 1329h34v17h-34zM739 1346h120v17h-120zM1063 1346h154v17h-154zM1643 1346h85v17h-85zM1899 1346h34v17h-34zM756 1363h103v17h-103zM1046 1363h102v17h-102zM1643 1363h51v17h-51zM1916 1363h17v17h-17zM807 1380h52v17h-52zM1046 1380h102v17h-102zM1643 1380h34v17h-34zM1916 1380h17v17h-17zM824 1397h52v17h-52zM1046 1397h102v17h-102zM1643 1397h17v17h-17zM1916 1397h34v17h-34zM841 1414h35v17h-35zM1029 1414h137v17h-137zM1319 1414h17v17h-17zM1626 1414h34v17h-34zM1933 1414h34v17h-34zM1029 1431h137v17h-137zM1302 1431h51v17h-51zM1626 1431h34v17h-34zM1933 1431h34v17h-34zM2069 1431h52v17h-52zM1029 1448h137v17h-137zM1302 1448h68v17h-68zM1609 1448h34v17h-34zM1899 1448h51v17h-51zM2052 1448h69v17h-69zM927 1465h34v17h-34zM978 1465h188v17h-188zM1319 1465h68v17h-68zM1592 1465h51v17h-51zM1711 1465h120v17h-120zM1865 1465h34v17h-34zM2035 1465h86v17h-86zM893 1482h238v17h-238zM1319 1482h85v17h-85zM1541 1482h102v17h-102zM1694 1482h51v17h-51zM1012 1499h17v17h-17zM1063 1499h34v17h-34zM1302 1499h17v17h-17zM1353 1499h34v17h-34zM1541 1499h187v17h-187zM1353 1516h68v17h-68zM1558 1516h187v17h-187zM1080 1533h17v17h-17zM1353 1533h51v17h-51zM1558 1533h51v17h-51zM1626 1533h34v17h-34zM1080 1550h51v17h-51zM1217 1550h34v17h-34zM1319 1550h85v17h-85zM1541 1550h34v17h-34zM1626 1550h17v17h-17zM1097 1567h290v17h-290zM1114 1584h34v17h-34zM1166 1584h34v17h-34zM1251 1584h153v17h-153zM1643 1584h17v17h-17zM1131 1601h69v17h-69zM1285 1601h119v17h-119zM1131 1618h52v17h-52zM1285 1618h85v17h-85zM1131 1635h35v17h-35zM1285 1635h68v17h-68zM1131 1652h35v17h-35zM1268 1652h34v17h-34zM1131 1669h17v17h-17zM1268 1669h34v17h-34zM1268 1686h17v17h-17zM1251 1703h34v17h-34zM1166 1720h34v17h-34zM1234 1720h51v17h-51zM1183 1737h85v17h-85zM1183 1754h68v17h-68zM1217 1771h34v17h-34z"/>
<path fill="#a7d0e4" d="M227 208h18v17h-18zM227 225h18v17h-18zM227 276h18v17h-18zM620 276h17v17h-17zM227 293h18v17h-18zM603 293h51v17h-51zM2462 293h17v17h-17zM227 310h35v17h-35zM603 310h34v17h-34zM722 310h51v17h-51zM227 327h35v17h-35zM586 327h34v17h-34zM722 327h51v17h-51zM227 344h18v17h-18zM586 344h34v17h-34zM722 344h17v17h-17zM1404 344h17v17h-17zM210 361h35v17h-35zM603 361h34v17h-34zM739 361h17v17h-17zM1166 361h34v17h-34zM2479 361h17v17h-17zM620 378h51v17h-51zM1148 378h52v17h-52zM1285 378h34v17h-34zM1353 378h34v17h-34zM654 395h34v17h-34zM1148 395h35v17h-35zM1268 395h34v17h-34zM1336 395h34v17h-34zM654 412h34v17h-34zM1148 412h18v17h-18zM1268 412h102v17h-102zM654 429h34v17h-34zM1148 429h18v17h-18zM1251 429h51v17h-51zM1336 429h17v17h-17zM620 446h51v17h-51zM1131 446h35v17h-35zM1251 446h51v17h-51zM296 463h34v17h-34zM603 463h34v17h-34zM1131 463h35v17h-35zM1268 463h34v17h-34zM1677 463h17v17h-17zM279 480h85v17h-85zM586 480h17v17h-17zM1114 480h34v17h-34zM1268 480h34v17h-34zM1592 480h17v17h-17zM1660 480h51v17h-51zM1848 480h17v17h-17zM142 497h17v17h-17zM279 497h85v17h-85zM569 497h17v17h-17zM1114 497h34v17h-34zM1268 497h17v17h-17zM1626 497h102v17h-102zM1848 497h17v17h-17zM142 514h51v17h-51zM262 514h17v17h-17zM296 514h51v17h-51zM552 514h17v17h-17zM1114 514h17v17h-17zM1251 514h34v17h-34zM1592 514h68v17h-68zM1677 514h68v17h-68zM125 531h68v17h-68zM296 531h51v17h-51zM466 531h86v17h-86zM1097 531h34v17h-34zM1217 531h51v17h-51zM1404 531h34v17h-34zM1575 531h187v17h-187zM2240 531h17v17h-17zM125 548h85v17h-85zM415 548h102v17h-102zM1097 548h34v17h-34zM1217 548h34v17h-34zM1387 548h68v17h-68zM1575 548h204v17h-204zM1865 548h17v17h-17zM2240 548h17v17h-17zM125 565h85v17h-85zM415 565h68v17h-68zM1114 565h17v17h-17zM1217 565h34v17h-34zM1387 565h34v17h-34zM1438 565h17v17h-17zM1575 565h170v17h-170zM1831 565h85v17h-85zM142 582h85v17h-85zM398 582h34v17h-34zM1114 582h34v17h-34zM1217 582h34v17h-34zM1387 582h17v17h-17zM1438 582h34v17h-34zM1558 582h34v17h-34zM1609 582h51v17h-51zM1677 582h85v17h-85zM1797 582h17v17h-17zM1831 582h85v17h-85zM125 599h137v17h-137zM347 599h68v17h-68zM1114 599h52v17h-52zM1234 599h34v17h-34zM1387 599h17v17h-17zM1421 599h51v17h-51zM1524 599h51v17h-51zM1694 599h34v17h-34zM1797 599h34v17h-34zM1848 599h68v17h-68zM142 616h51v17h-51zM210 616h69v17h-69zM330 616h85v17h-85zM1131 616h52v17h-52zM1234 616h34v17h-34zM1370 616h34v17h-34zM1421 616h137v17h-137zM1711 616h17v17h-17zM1797 616h68v17h-68zM142 633h51v17h-51zM227 633h35v17h-35zM347 633h51v17h-51zM1166 633h119v17h-119zM1370 633h34v17h-34zM1421 633h69v17h-69zM1711 633h34v17h-34zM1797 633h68v17h-68zM2138 633h17v17h-17zM159 650h34v17h-34zM227 650h35v17h-35zM347 650h51v17h-51zM807 650h103v17h-103zM1200 650h34v17h-34zM1251 650h51v17h-51zM1319 650h68v17h-68zM1421 650h51v17h-51zM1711 650h34v17h-34zM1814 650h68v17h-68zM1950 650h17v17h-17zM2138 650h17v17h-17zM159 667h86v17h-86zM347 667h34v17h-34zM790 667h103v17h-103zM1319 667h51v17h-51zM1438 667h17v17h-17zM1848 667h34v17h-34zM159 684h86v17h-86zM347 684h17v17h-17zM773 684h34v17h-34zM841 684h69v17h-69zM1319 684h51v17h-51zM1438 684h17v17h-17zM1848 684h17v17h-17zM176 701h51v17h-51zM347 701h34v17h-34zM790 701h17v17h-17zM859 701h34v17h-34zM1336 701h51v17h-51zM1438 701h17v17h-17zM1848 701h17v17h-17zM1950 701h34v17h-34zM159 718h137v17h-137zM330 718h51v17h-51zM790 718h17v17h-17zM841 718h52v17h-52zM1370 718h85v17h-85zM1814 718h51v17h-51zM125 735h85v17h-85zM227 735h103v17h-103zM347 735h34v17h-34zM790 735h69v17h-69zM1285 735h17v17h-17zM1404 735h68v17h-68zM2052 735h34v17h-34zM142 752h34v16h-34zM296 752h85v16h-85zM807 752h34v16h-34zM1268 752h34v16h-34zM1455 752h17v16h-17zM142 768h34v17h-34zM330 768h51v17h-51zM1251 768h51v17h-51zM1455 768h35v17h-35zM1558 768h51v17h-51zM1831 768h34v17h-34zM2018 768h51v17h-51zM142 785h51v17h-51zM1268 785h17v17h-17zM1472 785h137v17h-137zM1831 785h34v17h-34zM2052 785h17v17h-17zM193 802h34v17h-34zM1029 802h17v17h-17zM1490 802h34v17h-34zM1575 802h34v17h-34zM1831 802h34v17h-34zM210 819h35v17h-35zM1012 819h68v17h-68zM1558 819h51v17h-51zM1814 819h51v17h-51zM227 836h18v17h-18zM961 836h34v17h-34zM1012 836h85v17h-85zM1251 836h51v17h-51zM1558 836h51v17h-51zM1814 836h68v17h-68zM227 853h18v17h-18zM262 853h17v17h-17zM944 853h51v17h-51zM1012 853h85v17h-85zM1217 853h136v17h-136zM1558 853h34v17h-34zM1797 853h17v17h-17zM1831 853h68v17h-68zM227 870h52v17h-52zM296 870h17v17h-17zM944 870h34v17h-34zM1029 870h85v17h-85zM1148 870h239v17h-239zM1558 870h34v17h-34zM1797 870h119v17h-119zM176 887h137v17h-137zM944 887h34v17h-34zM1046 887h137v17h-137zM1217 887h34v17h-34zM1268 887h17v17h-17zM1336 887h51v17h-51zM1438 887h86v17h-86zM1558 887h17v17h-17zM1779 887h86v17h-86zM1882 887h34v17h-34zM159 904h86v17h-86zM262 904h68v17h-68zM927 904h51v17h-51zM1046 904h102v17h-102zM1353 904h51v17h-51zM1438 904h137v17h-137zM1814 904h51v17h-51zM1882 904h68v17h-68zM159 921h86v17h-86zM296 921h34v17h-34zM927 921h68v17h-68zM1012 921h85v17h-85zM1370 921h34v17h-34zM1438 921h137v17h-137zM1831 921h136v17h-136zM2240 921h68v17h-68zM142 938h34v17h-34zM193 938h52v17h-52zM313 938h34v17h-34zM944 938h170v17h-170zM1387 938h17v17h-17zM1455 938h137v17h-137zM1814 938h51v17h-51zM1899 938h51v17h-51zM2240 938h17v17h-17zM2274 938h85v17h-85zM159 955h17v17h-17zM210 955h35v17h-35zM313 955h51v17h-51zM944 955h153v17h-153zM1387 955h17v17h-17zM1507 955h119v17h-119zM125 972h68v17h-68zM210 972h35v17h-35zM330 972h34v17h-34zM961 972h119v17h-119zM1387 972h17v17h-17zM1507 972h119v17h-119zM1797 972h17v17h-17zM1882 972h17v17h-17zM125 989h17v17h-17zM159 989h86v17h-86zM330 989h34v17h-34zM978 989h102v17h-102zM1404 989h17v17h-17zM1507 989h119v17h-119zM1745 989h69v17h-69zM2035 989h86v17h-86zM2155 989h51v17h-51zM142 1006h103v17h-103zM262 1006h102v17h-102zM978 1006h119v17h-119zM1421 1006h17v17h-17zM1541 1006h85v17h-85zM1711 1006h86v17h-86zM1899 1006h34v17h-34zM2052 1006h52v17h-52zM2138 1006h85v17h-85zM125 1023h85v17h-85zM227 1023h137v17h-137zM807 1023h17v17h-17zM995 1023h102v17h-102zM1421 1023h34v17h-34zM1558 1023h51v17h-51zM1711 1023h68v17h-68zM1882 1023h102v17h-102zM2052 1023h17v17h-17zM2138 1023h85v17h-85zM125 1040h51v17h-51zM262 1040h85v17h-85zM756 1040h85v17h-85zM995 1040h102v17h-102zM1438 1040h17v17h-17zM1575 1040h34v17h-34zM1711 1040h68v17h-68zM1882 1040h102v17h-102zM2104 1040h34v17h-34zM2359 1040h17v17h-17zM159 1057h17v17h-17zM245 1057h102v17h-102zM739 1057h34v17h-34zM807 1057h52v17h-52zM995 1057h85v17h-85zM1421 1057h34v17h-34zM1592 1057h170v17h-170zM1899 1057h85v17h-85zM2342 1057h34v17h-34zM176 1074h17v17h-17zM210 1074h17v17h-17zM262 1074h102v17h-102zM739 1074h34v17h-34zM824 1074h35v17h-35zM978 1074h51v17h-51zM1421 1074h34v17h-34zM1694 1074h85v17h-85zM1882 1074h119v17h-119zM2342 1074h17v17h-17zM176 1091h34v17h-34zM227 1091h18v17h-18zM313 1091h34v17h-34zM739 1091h17v17h-17zM807 1091h52v17h-52zM961 1091h34v17h-34zM1421 1091h34v17h-34zM1728 1091h51v17h-51zM1882 1091h119v17h-119zM2274 1091h68v17h-68zM193 1108h69v17h-69zM313 1108h34v17h-34zM671 1108h85v17h-85zM790 1108h69v17h-69zM927 1108h51v17h-51zM1387 1108h68v17h-68zM1745 1108h34v17h-34zM1882 1108h102v17h-102zM2240 1108h34v17h-34zM245 1125h17v17h-17zM313 1125h34v17h-34zM671 1125h68v17h-68zM790 1125h34v17h-34zM841 1125h18v17h-18zM876 1125h68v17h-68zM1336 1125h136v17h-136zM1728 1125h51v17h-51zM1865 1125h51v17h-51zM1950 1125h34v17h-34zM2240 1125h34v17h-34zM313 1142h17v17h-17zM654 1142h102v17h-102zM790 1142h17v17h-17zM859 1142h51v17h-51zM1097 1142h51v17h-51zM1319 1142h136v17h-136zM1728 1142h34v17h-34zM1831 1142h68v17h-68zM1950 1142h51v17h-51zM2240 1142h34v17h-34zM262 1159h17v17h-17zM313 1159h17v17h-17zM654 1159h51v17h-51zM722 1159h34v17h-34zM790 1159h34v17h-34zM859 1159h17v17h-17zM1097 1159h51v17h-51zM1302 1159h51v17h-51zM1404 1159h86v17h-86zM1711 1159h68v17h-68zM1797 1159h34v17h-34zM1967 1159h34v17h-34zM2240 1159h34v17h-34zM262 1176h68v17h-68zM739 1176h34v17h-34zM790 1176h86v17h-86zM1097 1176h51v17h-51zM1285 1176h34v17h-34zM1404 1176h86v17h-86zM1694 1176h120v17h-120zM1967 1176h34v17h-34zM2257 1176h34v17h-34zM262 1193h68v17h-68zM739 1193h68v17h-68zM824 1193h35v17h-35zM1131 1193h17v17h-17zM1285 1193h34v17h-34zM1387 1193h51v17h-51zM1472 1193h35v17h-35zM1677 1193h120v17h-120zM1984 1193h34v17h-34zM2257 1193h34v17h-34zM262 1210h85v17h-85zM688 1210h17v17h-17zM739 1210h102v17h-102zM1268 1210h51v17h-51zM1387 1210h34v17h-34zM1490 1210h17v17h-17zM1660 1210h154v17h-154zM1831 1210h17v17h-17zM1865 1210h17v17h-17zM2001 1210h34v17h-34zM262 1227h17v17h-17zM296 1227h34v17h-34zM671 1227h34v17h-34zM739 1227h51v17h-51zM1268 1227h34v17h-34zM1370 1227h51v17h-51zM1490 1227h17v17h-17zM1592 1227h102v17h-102zM1745 1227h86v17h-86zM1882 1227h17v17h-17zM2001 1227h51v17h-51zM654 1244h136v17h-136zM1251 1244h51v17h-51zM1387 1244h34v17h-34zM1490 1244h17v17h-17zM1592 1244h17v17h-17zM1899 1244h34v17h-34zM2018 1244h51v17h-51zM398 1261h68v17h-68zM654 1261h136v17h-136zM1234 1261h68v17h-68zM1370 1261h137v17h-137zM1575 1261h34v17h-34zM1916 1261h17v17h-17zM2035 1261h34v17h-34zM432 1278h34v17h-34zM654 1278h51v17h-51zM722 1278h68v17h-68zM1234 1278h102v17h-102zM1370 1278h120v17h-120zM1575 1278h34v17h-34zM1916 1278h51v17h-51zM2035 1278h51v17h-51zM2104 1278h85v17h-85zM449 1295h17v17h-17zM637 1295h51v17h-51zM722 1295h51v17h-51zM1234 1295h153v17h-153zM1404 1295h34v17h-34zM1575 1295h51v17h-51zM1950 1295h34v17h-34zM2052 1295h137v17h-137zM637 1312h34v17h-34zM722 1312h17v17h-17zM1234 1312h34v17h-34zM1302 1312h17v17h-17zM1404 1312h34v17h-34zM1592 1312h17v17h-17zM1933 1312h51v17h-51zM2069 1312h35v17h-35zM2121 1312h51v17h-51zM620 1329h85v17h-85zM1217 1329h51v17h-51zM1302 1329h17v17h-17zM1575 1329h51v17h-51zM1933 1329h51v17h-51zM2001 1329h34v17h-34zM620 1346h119v17h-119zM1217 1346h34v17h-34zM1285 1346h17v17h-17zM1421 1346h34v17h-34zM1592 1346h51v17h-51zM1933 1346h34v17h-34zM1984 1346h68v17h-68zM620 1363h51v17h-51zM688 1363h68v17h-68zM1148 1363h103v17h-103zM1285 1363h68v17h-68zM1455 1363h17v17h-17zM1592 1363h51v17h-51zM1933 1363h17v17h-17zM1967 1363h85v17h-85zM620 1380h17v17h-17zM1148 1380h103v17h-103zM1285 1380h85v17h-85zM1609 1380h34v17h-34zM1933 1380h119v17h-119zM2121 1380h17v17h-17zM1148 1397h69v17h-69zM1285 1397h102v17h-102zM1438 1397h34v17h-34zM1609 1397h34v17h-34zM1950 1397h102v17h-102zM2086 1397h69v17h-69zM1166 1414h51v17h-51zM1285 1414h34v17h-34zM1336 1414h51v17h-51zM1438 1414h34v17h-34zM1609 1414h17v17h-17zM1967 1414h188v17h-188zM1166 1431h51v17h-51zM1268 1431h34v17h-34zM1353 1431h51v17h-51zM1592 1431h34v17h-34zM1967 1431h102v17h-102zM2121 1431h34v17h-34zM1166 1448h51v17h-51zM1251 1448h51v17h-51zM1370 1448h51v17h-51zM1541 1448h68v17h-68zM1950 1448h102v17h-102zM2121 1448h51v17h-51zM1166 1465h68v17h-68zM1251 1465h68v17h-68zM1387 1465h34v17h-34zM1507 1465h85v17h-85zM1899 1465h136v17h-136zM2121 1465h34v17h-34zM1131 1482h188v17h-188zM1404 1482h34v17h-34zM1490 1482h51v17h-51zM1745 1482h137v17h-137zM1899 1482h68v17h-68zM1984 1482h171v17h-171zM893 1499h119v17h-119zM1029 1499h34v17h-34zM1097 1499h205v17h-205zM1319 1499h34v17h-34zM1387 1499h68v17h-68zM1507 1499h34v17h-34zM1728 1499h34v17h-34zM1984 1499h17v17h-17zM2052 1499h34v17h-34zM2172 1499h34v17h-34zM893 1516h17v17h-17zM1012 1516h341v17h-341zM1421 1516h17v17h-17zM1524 1516h34v17h-34zM2172 1516h34v17h-34zM1063 1533h17v17h-17zM1097 1533h256v17h-256zM1404 1533h86v17h-86zM1524 1533h34v17h-34zM1609 1533h17v17h-17zM1660 1533h85v17h-85zM2189 1533h34v17h-34zM978 1550h17v17h-17zM1131 1550h86v17h-86zM1251 1550h68v17h-68zM1404 1550h86v17h-86zM1575 1550h17v17h-17zM1643 1550h68v17h-68zM2172 1550h34v17h-34zM1387 1567h51v17h-51zM1626 1567h68v17h-68zM2172 1567h34v17h-34zM1148 1584h18v17h-18zM1404 1584h17v17h-17zM2155 1584h68v17h-68zM1114 1601h17v17h-17zM2138 1601h68v17h-68zM2138 1618h85v17h-85zM2138 1635h102v17h-102zM1302 1652h17v17h-17zM2138 1652h85v17h-85zM2138 1669h85v17h-85zM1285 1686h17v17h-17zM2172 1686h68v17h-68zM2172 1703h51v17h-51zM2189 1720h17v17h-17zM1268 1737h34v17h-34zM2189 1737h17v17h-17zM1251 1754h51v17h-51zM1251 1771h51v17h-51z"/>
<path fill="#e2edf3" d="M654 293h68v17h-68zM210 310h17v17h-17zM637 310h85v17h-85zM773 310h34v17h-34zM210 327h17v17h-17zM620 327h102v17h-102zM773 327h86v17h-86zM210 344h17v17h-17zM620 344h102v17h-102zM739 344h120v17h-120zM637 361h102v17h-102zM756 361h103v17h-103zM1114 361h52v17h-52zM1404 361h17v17h-17zM671 378h170v17h-170zM1114 378h34v17h-34zM1387 378h51v17h-51zM688 395h136v17h-136zM1114 395h34v17h-34zM1370 395h51v17h-51zM688 412h153v17h-153zM1114 412h34v17h-34zM1370 412h34v17h-34zM1541 412h17v17h-17zM1575 412h17v17h-17zM688 429h153v17h-153zM1114 429h34v17h-34zM1302 429h34v17h-34zM1353 429h34v17h-34zM1541 429h68v17h-68zM671 446h68v17h-68zM756 446h120v17h-120zM1097 446h34v17h-34zM1302 446h68v17h-68zM1541 446h51v17h-51zM1694 446h17v17h-17zM637 463h68v17h-68zM722 463h171v17h-171zM1097 463h34v17h-34zM1302 463h51v17h-51zM1541 463h34v17h-34zM603 480h34v17h-34zM739 480h154v17h-154zM1080 480h34v17h-34zM1302 480h34v17h-34zM1541 480h17v17h-17zM1797 480h17v17h-17zM586 497h17v17h-17zM756 497h137v17h-137zM1080 497h34v17h-34zM1285 497h51v17h-51zM1421 497h17v17h-17zM1558 497h34v17h-34zM1728 497h17v17h-17zM1762 497h69v17h-69zM569 514h34v17h-34zM773 514h103v17h-103zM1080 514h34v17h-34zM1285 514h51v17h-51zM1370 514h85v17h-85zM1558 514h34v17h-34zM1745 514h120v17h-120zM1882 514h17v17h-17zM552 531h34v17h-34zM824 531h69v17h-69zM1080 531h17v17h-17zM1268 531h68v17h-68zM1353 531h51v17h-51zM1438 531h34v17h-34zM1558 531h17v17h-17zM1762 531h35v17h-35zM1848 531h17v17h-17zM517 548h52v17h-52zM824 548h103v17h-103zM1063 548h34v17h-34zM1251 548h136v17h-136zM1455 548h35v17h-35zM1558 548h17v17h-17zM1848 548h17v17h-17zM1882 548h17v17h-17zM483 565h51v17h-51zM824 565h120v17h-120zM1063 565h51v17h-51zM1251 565h136v17h-136zM1455 565h35v17h-35zM1541 565h34v17h-34zM432 582h85v17h-85zM824 582h120v17h-120zM1063 582h51v17h-51zM1251 582h136v17h-136zM1472 582h18v17h-18zM1524 582h34v17h-34zM415 599h51v17h-51zM824 599h120v17h-120zM1080 599h34v17h-34zM1268 599h119v17h-119zM1472 599h52v17h-52zM1728 599h17v17h-17zM193 616h17v17h-17zM415 616h17v17h-17zM824 616h103v17h-103zM1097 616h34v17h-34zM1268 616h102v17h-102zM1728 616h17v17h-17zM193 633h34v17h-34zM398 633h17v17h-17zM790 633h154v17h-154zM1114 633h52v17h-52zM1285 633h85v17h-85zM193 650h34v17h-34zM398 650h17v17h-17zM773 650h34v17h-34zM910 650h34v17h-34zM1131 650h69v17h-69zM1234 650h17v17h-17zM1302 650h17v17h-17zM1797 650h17v17h-17zM2121 650h17v17h-17zM381 667h34v17h-34zM756 667h34v17h-34zM893 667h51v17h-51zM1166 667h153v17h-153zM1797 667h51v17h-51zM364 684h34v17h-34zM756 684h17v17h-17zM910 684h51v17h-51zM978 684h17v17h-17zM1217 684h102v17h-102zM1797 684h51v17h-51zM381 701h17v17h-17zM756 701h34v17h-34zM893 701h119v17h-119zM1268 701h68v17h-68zM1814 701h34v17h-34zM381 718h17v17h-17zM756 718h34v17h-34zM893 718h119v17h-119zM1183 718h17v17h-17zM1234 718h136v17h-136zM210 735h17v17h-17zM381 735h17v17h-17zM756 735h34v17h-34zM859 735h51v17h-51zM927 735h51v17h-51zM1166 735h119v17h-119zM1302 735h102v17h-102zM176 752h120v16h-120zM381 752h17v16h-17zM756 752h51v16h-51zM841 752h35v16h-35zM927 752h51v16h-51zM1166 752h102v16h-102zM1302 752h51v16h-51zM1370 752h85v16h-85zM176 768h154v17h-154zM381 768h17v17h-17zM552 768h34v17h-34zM756 768h85v17h-85zM927 768h34v17h-34zM1166 768h85v17h-85zM1302 768h34v17h-34zM1387 768h17v17h-17zM1421 768h34v17h-34zM193 785h52v17h-52zM279 785h102v17h-102zM773 785h34v17h-34zM1046 785h51v17h-51zM1166 785h102v17h-102zM1285 785h51v17h-51zM1421 785h51v17h-51zM227 802h35v17h-35zM313 802h51v17h-51zM927 802h51v17h-51zM995 802h34v17h-34zM1046 802h68v17h-68zM1183 802h153v17h-153zM1421 802h69v17h-69zM1524 802h51v17h-51zM245 819h34v17h-34zM927 819h85v17h-85zM1080 819h34v17h-34zM1166 819h204v17h-204zM1404 819h17v17h-17zM1438 819h120v17h-120zM245 836h85v17h-85zM620 836h34v17h-34zM927 836h34v17h-34zM995 836h17v17h-17zM1097 836h34v17h-34zM1148 836h103v17h-103zM1302 836h256v17h-256zM245 853h17v17h-17zM279 853h51v17h-51zM586 853h68v17h-68zM927 853h17v17h-17zM995 853h17v17h-17zM1097 853h120v17h-120zM1353 853h205v17h-205zM279 870h17v17h-17zM313 870h17v17h-17zM586 870h68v17h-68zM927 870h17v17h-17zM978 870h51v17h-51zM1114 870h34v17h-34zM1387 870h171v17h-171zM313 887h17v17h-17zM586 887h51v17h-51zM910 887h34v17h-34zM978 887h68v17h-68zM1387 887h51v17h-51zM1524 887h34v17h-34zM1865 887h17v17h-17zM330 904h51v17h-51zM466 904h68v17h-68zM552 904h51v17h-51zM910 904h17v17h-17zM978 904h68v17h-68zM1404 904h34v17h-34zM1865 904h17v17h-17zM2274 904h34v17h-34zM330 921h102v17h-102zM466 921h154v17h-154zM910 921h17v17h-17zM995 921h17v17h-17zM1404 921h34v17h-34zM176 938h17v17h-17zM347 938h68v17h-68zM466 938h86v17h-86zM910 938h34v17h-34zM1404 938h51v17h-51zM176 955h34v17h-34zM364 955h51v17h-51zM483 955h51v17h-51zM893 955h51v17h-51zM1404 955h103v17h-103zM193 972h17v17h-17zM364 972h51v17h-51zM876 972h85v17h-85zM1404 972h103v17h-103zM364 989h51v17h-51zM824 989h154v17h-154zM1421 989h86v17h-86zM364 1006h34v17h-34zM790 1006h188v17h-188zM1438 1006h103v17h-103zM364 1023h34v17h-34zM756 1023h51v17h-51zM824 1023h171v17h-171zM1455 1023h103v17h-103zM347 1040h102v17h-102zM722 1040h34v17h-34zM841 1040h154v17h-154zM1455 1040h120v17h-120zM347 1057h102v17h-102zM671 1057h68v17h-68zM859 1057h136v17h-136zM1455 1057h35v17h-35zM1541 1057h51v17h-51zM364 1074h85v17h-85zM654 1074h85v17h-85zM859 1074h119v17h-119zM1455 1074h35v17h-35zM1575 1074h119v17h-119zM2359 1074h34v17h-34zM347 1091h102v17h-102zM637 1091h102v17h-102zM859 1091h102v17h-102zM1455 1091h35v17h-35zM1694 1091h34v17h-34zM2342 1091h34v17h-34zM347 1108h17v17h-17zM398 1108h17v17h-17zM637 1108h34v17h-34zM859 1108h68v17h-68zM1455 1108h35v17h-35zM1711 1108h34v17h-34zM2274 1108h85v17h-85zM620 1125h51v17h-51zM824 1125h17v17h-17zM859 1125h17v17h-17zM1472 1125h18v17h-18zM1711 1125h17v17h-17zM1916 1125h34v17h-34zM2274 1125h51v17h-51zM330 1142h34v17h-34zM620 1142h34v17h-34zM807 1142h52v17h-52zM1455 1142h35v17h-35zM1694 1142h34v17h-34zM1899 1142h51v17h-51zM2274 1142h51v17h-51zM330 1159h34v17h-34zM620 1159h34v17h-34zM705 1159h17v17h-17zM824 1159h35v17h-35zM1353 1159h51v17h-51zM1694 1159h17v17h-17zM1831 1159h136v17h-136zM2291 1159h17v17h-17zM330 1176h34v17h-34zM586 1176h17v17h-17zM620 1176h119v17h-119zM1319 1176h85v17h-85zM1490 1176h34v17h-34zM1677 1176h17v17h-17zM1814 1176h68v17h-68zM1916 1176h51v17h-51zM2291 1176h17v17h-17zM330 1193h34v17h-34zM552 1193h51v17h-51zM620 1193h119v17h-119zM1319 1193h68v17h-68zM1507 1193h34v17h-34zM1609 1193h68v17h-68zM1797 1193h85v17h-85zM1950 1193h34v17h-34zM347 1210h17v17h-17zM586 1210h17v17h-17zM620 1210h68v17h-68zM705 1210h34v17h-34zM1319 1210h68v17h-68zM1507 1210h51v17h-51zM1575 1210h85v17h-85zM1814 1210h17v17h-17zM1848 1210h17v17h-17zM1882 1210h34v17h-34zM1967 1210h34v17h-34zM330 1227h34v17h-34zM620 1227h51v17h-51zM705 1227h34v17h-34zM1302 1227h68v17h-68zM1507 1227h85v17h-85zM1899 1227h34v17h-34zM1950 1227h51v17h-51zM398 1244h85v17h-85zM620 1244h34v17h-34zM1302 1244h85v17h-85zM1507 1244h85v17h-85zM1933 1244h85v17h-85zM466 1261h34v17h-34zM637 1261h17v17h-17zM1302 1261h68v17h-68zM1507 1261h68v17h-68zM1933 1261h102v17h-102zM466 1278h34v17h-34zM603 1278h51v17h-51zM1336 1278h34v17h-34zM1490 1278h85v17h-85zM1967 1278h68v17h-68zM466 1295h17v17h-17zM603 1295h34v17h-34zM1387 1295h17v17h-17zM1438 1295h86v17h-86zM1558 1295h17v17h-17zM1984 1295h68v17h-68zM603 1312h34v17h-34zM1268 1312h34v17h-34zM1319 1312h85v17h-85zM1438 1312h86v17h-86zM1558 1312h34v17h-34zM1984 1312h85v17h-85zM2104 1312h17v17h-17zM586 1329h34v17h-34zM1268 1329h34v17h-34zM1319 1329h205v17h-205zM1558 1329h17v17h-17zM1984 1329h17v17h-17zM2035 1329h137v17h-137zM586 1346h34v17h-34zM1251 1346h34v17h-34zM1302 1346h119v17h-119zM1455 1346h69v17h-69zM1541 1346h51v17h-51zM1967 1346h17v17h-17zM2052 1346h120v17h-120zM552 1363h68v17h-68zM671 1363h17v17h-17zM1251 1363h34v17h-34zM1353 1363h102v17h-102zM1472 1363h35v17h-35zM1541 1363h51v17h-51zM1950 1363h17v17h-17zM2052 1363h103v17h-103zM637 1380h85v17h-85zM1251 1380h34v17h-34zM1370 1380h154v17h-154zM1541 1380h68v17h-68zM2052 1380h69v17h-69zM2138 1380h17v17h-17zM1217 1397h68v17h-68zM1387 1397h51v17h-51zM1472 1397h52v17h-52zM1558 1397h51v17h-51zM2052 1397h34v17h-34zM1217 1414h68v17h-68zM1387 1414h51v17h-51zM1472 1414h52v17h-52zM1541 1414h68v17h-68zM1217 1431h51v17h-51zM1404 1431h188v17h-188zM1217 1448h34v17h-34zM1421 1448h120v17h-120zM1234 1465h17v17h-17zM1421 1465h86v17h-86zM2155 1465h17v17h-17zM1438 1482h52v17h-52zM1967 1482h17v17h-17zM2155 1482h34v17h-34zM1455 1499h52v17h-52zM1762 1499h52v17h-52zM1933 1499h51v17h-51zM2086 1499h86v17h-86zM910 1516h34v17h-34zM978 1516h34v17h-34zM1438 1516h86v17h-86zM1950 1516h34v17h-34zM2086 1516h86v17h-86zM910 1533h17v17h-17zM1490 1533h34v17h-34zM2121 1533h68v17h-68zM1711 1550h17v17h-17zM2138 1550h34v17h-34zM2206 1550h17v17h-17zM1694 1567h34v17h-34zM2121 1567h51v17h-51zM2206 1567h17v17h-17zM2121 1584h34v17h-34zM2223 1584h17v17h-17zM2121 1601h17v17h-17zM2206 1601h51v17h-51zM2104 1618h34v17h-34zM2223 1618h34v17h-34zM2121 1635h17v17h-17zM2240 1635h34v17h-34zM2223 1652h51v17h-51zM2223 1669h51v17h-51zM2240 1686h34v17h-34zM2223 1703h34v17h-34zM2206 1720h51v17h-51zM2206 1737h34v17h-34zM2206 1771h17v17h-17z"/>
<path fill="#fae7dc" d="M227 191h18v17h-18zM859 327h51v17h-51zM859 344h170v17h-170zM859 361h255v17h-255zM841 378h273v17h-273zM824 395h290v17h-290zM1421 395h69v17h-69zM841 412h273v17h-273zM1404 412h51v17h-51zM1507 412h34v17h-34zM841 429h273v17h-273zM1387 429h51v17h-51zM1455 429h17v17h-17zM1490 429h51v17h-51zM739 446h17v17h-17zM876 446h221v17h-221zM1370 446h85v17h-85zM1490 446h51v17h-51zM705 463h17v17h-17zM893 463h204v17h-204zM1353 463h137v17h-137zM1507 463h34v17h-34zM637 480h102v17h-102zM893 480h187v17h-187zM1336 480h205v17h-205zM1814 480h17v17h-17zM603 497h153v17h-153zM893 497h187v17h-187zM1336 497h85v17h-85zM1438 497h103v17h-103zM1831 497h17v17h-17zM603 514h17v17h-17zM739 514h34v17h-34zM876 514h204v17h-204zM1336 514h34v17h-34zM1455 514h35v17h-35zM1524 514h34v17h-34zM1865 514h17v17h-17zM586 531h17v17h-17zM756 531h68v17h-68zM893 531h187v17h-187zM1336 531h17v17h-17zM1472 531h18v17h-18zM1524 531h34v17h-34zM569 548h34v17h-34zM790 548h34v17h-34zM927 548h136v17h-136zM1490 548h17v17h-17zM1524 548h34v17h-34zM534 565h52v17h-52zM790 565h34v17h-34zM944 565h119v17h-119zM1490 565h17v17h-17zM1524 565h17v17h-17zM517 582h35v17h-35zM790 582h34v17h-34zM944 582h119v17h-119zM1490 582h34v17h-34zM466 599h68v17h-68zM790 599h34v17h-34zM944 599h136v17h-136zM432 616h102v17h-102zM773 616h51v17h-51zM927 616h170v17h-170zM415 633h51v17h-51zM483 633h34v17h-34zM756 633h34v17h-34zM944 633h170v17h-170zM415 650h34v17h-34zM739 650h34v17h-34zM944 650h187v17h-187zM415 667h17v17h-17zM739 667h17v17h-17zM944 667h222v17h-222zM398 684h34v17h-34zM722 684h34v17h-34zM961 684h17v17h-17zM995 684h85v17h-85zM1114 684h103v17h-103zM398 701h34v17h-34zM722 701h34v17h-34zM1012 701h51v17h-51zM1114 701h154v17h-154zM398 718h34v17h-34zM705 718h51v17h-51zM1012 718h68v17h-68zM1114 718h69v17h-69zM1200 718h34v17h-34zM398 735h34v17h-34zM569 735h51v17h-51zM705 735h51v17h-51zM910 735h17v17h-17zM978 735h188v17h-188zM398 752h34v16h-34zM534 752h120v16h-120zM671 752h85v16h-85zM876 752h51v16h-51zM978 752h188v16h-188zM1353 752h17v16h-17zM398 768h17v17h-17zM500 768h52v17h-52zM586 768h170v17h-170zM841 768h86v17h-86zM961 768h205v17h-205zM1336 768h51v17h-51zM1404 768h17v17h-17zM245 785h34v17h-34zM381 785h51v17h-51zM466 785h307v17h-307zM807 785h52v17h-52zM893 785h153v17h-153zM1097 785h69v17h-69zM1336 785h85v17h-85zM262 802h51v17h-51zM364 802h460v17h-460zM910 802h17v17h-17zM978 802h17v17h-17zM1114 802h69v17h-69zM1336 802h85v17h-85zM279 819h511v17h-511zM910 819h17v17h-17zM1114 819h52v17h-52zM1370 819h34v17h-34zM1421 819h17v17h-17zM330 836h85v17h-85zM449 836h103v17h-103zM569 836h51v17h-51zM654 836h34v17h-34zM910 836h17v17h-17zM1131 836h17v17h-17zM330 853h102v17h-102zM449 853h103v17h-103zM569 853h17v17h-17zM654 853h34v17h-34zM910 853h17v17h-17zM330 870h256v17h-256zM654 870h17v17h-17zM910 870h17v17h-17zM330 887h256v17h-256zM637 887h34v17h-34zM893 887h17v17h-17zM381 904h85v17h-85zM534 904h18v17h-18zM603 904h68v17h-68zM893 904h17v17h-17zM432 921h34v17h-34zM620 921h34v17h-34zM893 921h17v17h-17zM415 938h51v17h-51zM552 938h102v17h-102zM893 938h17v17h-17zM415 955h68v17h-68zM534 955h120v17h-120zM824 955h69v17h-69zM415 972h239v17h-239zM807 972h69v17h-69zM415 989h102v17h-102zM603 989h51v17h-51zM773 989h51v17h-51zM398 1006h119v17h-119zM603 1006h85v17h-85zM756 1006h34v17h-34zM398 1023h119v17h-119zM603 1023h153v17h-153zM449 1040h68v17h-68zM603 1040h119v17h-119zM449 1057h68v17h-68zM603 1057h68v17h-68zM1490 1057h51v17h-51zM449 1074h68v17h-68zM603 1074h51v17h-51zM1490 1074h85v17h-85zM449 1091h68v17h-68zM603 1091h34v17h-34zM1490 1091h204v17h-204zM2376 1091h17v17h-17zM364 1108h34v17h-34zM415 1108h102v17h-102zM586 1108h51v17h-51zM1490 1108h68v17h-68zM1677 1108h34v17h-34zM2359 1108h17v17h-17zM347 1125h153v17h-153zM569 1125h51v17h-51zM1490 1125h51v17h-51zM1677 1125h34v17h-34zM2325 1125h34v17h-34zM364 1142h153v17h-153zM534 1142h86v17h-86zM1490 1142h51v17h-51zM1677 1142h17v17h-17zM364 1159h68v17h-68zM500 1159h120v17h-120zM1490 1159h102v17h-102zM1660 1159h34v17h-34zM364 1176h51v17h-51zM500 1176h86v17h-86zM603 1176h17v17h-17zM1524 1176h153v17h-153zM1882 1176h34v17h-34zM364 1193h51v17h-51zM517 1193h35v17h-35zM603 1193h17v17h-17zM1541 1193h68v17h-68zM1882 1193h68v17h-68zM364 1210h85v17h-85zM517 1210h69v17h-69zM603 1210h17v17h-17zM1558 1210h17v17h-17zM1916 1210h51v17h-51zM364 1227h256v17h-256zM1933 1227h17v17h-17zM483 1244h137v17h-137zM500 1261h137v17h-137zM500 1278h103v17h-103zM483 1295h120v17h-120zM1524 1295h34v17h-34zM483 1312h17v17h-17zM552 1312h51v17h-51zM1524 1312h34v17h-34zM552 1329h34v17h-34zM1524 1329h34v17h-34zM534 1346h52v17h-52zM1524 1346h17v17h-17zM1507 1363h34v17h-34zM1524 1380h17v17h-17zM1524 1397h34v17h-34zM1524 1414h17v17h-17zM944 1516h34v17h-34zM2069 1516h17v17h-17zM927 1533h85v17h-85zM2086 1533h35v17h-35zM927 1550h34v17h-34zM2104 1550h34v17h-34zM1728 1567h34v17h-34zM2104 1567h17v17h-17zM1728 1584h17v17h-17zM2104 1584h17v17h-17zM2104 1601h17v17h-17zM2257 1703h34v17h-34zM2257 1720h34v17h-34zM2240 1737h51v17h-51zM2223 1754h51v17h-51zM2138 1771h17v17h-17zM2172 1771h17v17h-17z"/>
<path fill="#f7b799" d="M1490 395h17v17h-17zM1455 412h52v17h-52zM1438 429h17v17h-17zM1472 429h18v17h-18zM1455 446h35v17h-35zM1490 463h17v17h-17zM620 514h119v17h-119zM1490 514h34v17h-34zM603 531h153v17h-153zM1490 531h34v17h-34zM603 548h85v17h-85zM739 548h51v17h-51zM1507 548h17v17h-17zM586 565h85v17h-85zM756 565h34v17h-34zM1507 565h17v17h-17zM552 582h119v17h-119zM756 582h34v17h-34zM534 599h120v17h-120zM756 599h34v17h-34zM534 616h52v17h-52zM637 616h51v17h-51zM722 616h51v17h-51zM466 633h17v17h-17zM517 633h52v17h-52zM637 633h17v17h-17zM722 633h34v17h-34zM449 650h103v17h-103zM688 650h51v17h-51zM432 667h85v17h-85zM688 667h51v17h-51zM432 684h34v17h-34zM688 684h34v17h-34zM1080 684h34v17h-34zM432 701h34v17h-34zM620 701h34v17h-34zM688 701h34v17h-34zM1063 701h51v17h-51zM432 718h34v17h-34zM534 718h120v17h-120zM671 718h34v17h-34zM1080 718h34v17h-34zM432 735h34v17h-34zM500 735h69v17h-69zM620 735h85v17h-85zM432 752h102v16h-102zM654 752h17v16h-17zM415 768h85v17h-85zM432 785h34v17h-34zM859 785h34v17h-34zM824 802h86v17h-86zM790 819h51v17h-51zM876 819h34v17h-34zM415 836h34v17h-34zM552 836h17v17h-17zM688 836h136v17h-136zM893 836h17v17h-17zM432 853h17v17h-17zM552 853h17v17h-17zM688 853h85v17h-85zM893 853h17v17h-17zM671 870h68v17h-68zM893 870h17v17h-17zM671 887h51v17h-51zM876 887h17v17h-17zM671 904h34v17h-34zM876 904h17v17h-17zM654 921h51v17h-51zM859 921h34v17h-34zM654 938h34v17h-34zM807 938h86v17h-86zM654 955h17v17h-17zM773 955h51v17h-51zM654 972h34v17h-34zM773 972h34v17h-34zM517 989h86v17h-86zM654 989h51v17h-51zM756 989h17v17h-17zM517 1006h86v17h-86zM688 1006h68v17h-68zM517 1023h86v17h-86zM517 1040h86v17h-86zM517 1057h86v17h-86zM517 1074h86v17h-86zM517 1091h86v17h-86zM517 1108h69v17h-69zM1558 1108h119v17h-119zM500 1125h69v17h-69zM1541 1125h136v17h-136zM517 1142h17v17h-17zM1541 1142h68v17h-68zM1626 1142h51v17h-51zM432 1159h68v17h-68zM1592 1159h68v17h-68zM415 1176h85v17h-85zM415 1193h102v17h-102zM449 1210h68v17h-68zM500 1312h52v17h-52zM500 1329h52v17h-52zM961 1550h17v17h-17zM944 1567h34v17h-34z"/>
<path fill="#dd6f59" d="M688 548h51v17h-51zM671 565h85v17h-85zM671 582h85v17h-85zM654 599h102v17h-102zM586 616h51v17h-51zM688 616h34v17h-34zM569 633h68v17h-68zM654 633h68v17h-68zM552 650h136v17h-136zM517 667h171v17h-171zM466 684h222v17h-222zM466 701h154v17h-154zM654 701h34v17h-34zM466 718h68v17h-68zM654 718h17v17h-17zM466 735h34v17h-34zM841 819h35v17h-35zM824 836h69v17h-69zM773 853h120v17h-120zM739 870h154v17h-154zM722 887h154v17h-154zM705 904h171v17h-171zM705 921h154v17h-154zM688 938h119v17h-119zM671 955h102v17h-102zM688 972h85v17h-85zM705 989h51v17h-51zM1609 1142h17v17h-17z"/>
</g>
<path fill="none" stroke="#000" stroke-width="4.3" stroke-linejoin="round" stroke-linecap="butt" stroke-dasharray="4.3 6.7" d="M1858.8 470L1857.3 479.3L1854.2 488.5L1848 496.2L1834.1 497L1831 480.8L1821.8 482.3L1812.5 487L1800.2 488.5L1789.4 490.8L1780.1 496.2L1772.4 502.4L1763.2 507L1753.2 506.2L1743.1 506.2L1734.7 503.2L1727.7 495.4L1720 488.5M1737 700.3L1738.5 667.4L1743.1 639.6L1747 618.8L1752.4 602.6L1759.3 584.1L1746.2 581.8L1746.2 566.4L1778.6 564.8L1780.1 548.7L1795.6 547.1L1797.1 534.8L1812.5 529.4L1831 524L1846.5 531.7L1844.9 544L1841.8 562.5L1831 570.2L1828 581L1812.5 584.1L1797.1 584.1L1803.3 602.6L1796.3 615L1797.1 625.8L1795.6 638.1L1789.4 647.4L1790.9 656.6L1794 667.4L1790.2 678.2L1794.8 687.5L1800.2 696.7L1801.7 700.3M1851.1 534.8L1865 536.3L1874.2 544.8L1881.9 551L1892.7 554.1L1903.5 556.4L1912.8 561L1919 570.2L1913.6 574.1L1917.4 583.4L1922.8 592.6L1923.6 603.4L1924.3 614.2L1919 622.7L1915.9 631.9L1910.5 640.4L1903.5 647.4L1903.5 658.2L1914.3 662.8L1921.3 656.6L1927.4 647.4L1930.5 639.6L1939 633.5L1949 631.9L1957.5 640.4L1961.4 649.7L1965.2 661.2L1968.3 670.5L1972.9 681.3L1976.8 685.9L1985.3 685.1L1993 676.7L2002.2 669L2004.5 658.2L2001.5 647.4L1999.9 636.6L1997.6 625.8L1998.4 615L1999.9 604.9L2006.9 595.7L2009.9 585.7L2008.4 574.9L2003 565.6L1994.5 557.9L1985.3 553.3L1993.8 549.4L2003.8 549.4L2006.1 559.5L2013 567.2L2019.2 563.3L2023.1 571.8L2026.1 582.6L2040.8 580.3L2051.6 583.4L2062.4 584.1L2065.5 574.1L2053.1 565.6L2067 561L2074.7 564.8L2073.9 557.9L2062.4 550.2L2057.8 542.5L2051.6 530.1L2040.8 522.4L2025.4 514.7L2019.2 506.2L2009.9 503.2L2000.7 502.4L1982.2 499.3L1966.8 500.1L1946.7 499.3L1925.1 503.2L1903.5 503.6L1892.7 502.4L1881.9 500.1L1872.7 494.7L1868.1 488.5L1881.9 500.8L1898.9 514.7L1899.7 531.7L1865 531.7L1851.1 534.8M1905.1 520.9L1928.2 514.7L1948.3 511.6L1966.8 508.6L1980.6 514.7L1982.2 522.4L1980.6 534.8L1969.8 531.7L1960.6 531.7L1949.8 528.6L1939 524L1926.7 524L1912.8 520.9L1905.1 520.9M2070.1 700.3L2079.3 692.1L2090.1 684.4L2100 679.7M2100 627.3L2094.8 633.5L2090.1 647.4L2094.8 656.6L2100 659.7M1899.7 514.7L1914.3 536.3L1935.9 545.6L1948.3 551.7L1954.4 568.7L1961.4 590.3L1968.3 610.3L1974.5 631.9L1980.6 653.5L1982.2 664.3L1979.1 675.1L1976.8 685.9L1976.8 700.3M1831 480.8L1837.2 473.1L1841.8 470M1723.1 561L1729.3 578L1735.4 593.4L1729.3 608.8L1723.1 627.3M1757 542.5L1753.2 551.7L1748.5 562.5L1744.7 571.8L1740 581M1755.5 554.1L1772.4 542.5L1781.7 541.7M1800.2 584.1L1818.7 582.6L1812.5 593.4L1821.8 602.6L1826.4 599.5L1830.3 588.8M2092.7 637.5L2099.3 628.7L2108.1 621L2115.7 613.3L2125.6 608.9L2135.5 604.5L2145.4 600.1L2155.3 595.7L2165.1 591.9L2175 587L2176.1 582.6L2183.8 578.2L2193.7 573.8L2201.4 571.6L2211.2 568.3L2222.2 561.7L2233.2 555.1L2240.9 548.5L2243.1 563.9L2240.9 577.1L2238.7 585.9L2237.6 596.8L2240.9 603.4L2231 607.8L2224.4 616.6L2215.6 623.2L2206.8 627.6L2197 629.8L2186 633.1L2176.1 630.9L2165.1 631.4L2154.2 632.5L2143.2 635.8L2133.3 640.7L2123.4 645.7L2116.8 649.5L2107 653.9L2096 654.5L2090.5 647.9L2092.7 637.5M2078.4 684L2088.3 681.4L2099.3 677L2110.3 674.8L2120.1 672.6L2130 670.4L2134.4 672.6L2130 681.4L2125.6 684M2240.9 548.5L2246.4 539.8L2253 529.9L2258.4 520M2116.8 634.2L2126.7 627L2135.5 622.6L2146.5 619.9L2157.5 617.1L2168.4 615L2178.9 612.8L2189.8 610.6L2200.8 607.8L2211.8 605.1L2216.2 595.7L2219.5 585.9L2222.8 573.8L2226.6 563.9L2233.2 555.1M2116.8 634.2L2117.9 641.8L2123.4 645.7L2121.8 651.7L2124.5 660.5L2130 667.1L2134.4 671.5M251 345.9L256.9 354.8L256.9 381.3L280.4 393.1L304 393.1L320.2 404.9L360 409.3L404.2 410.8L413 410.8L498.5 434.3M541.2 262L530.9 310.6L513.2 369.5L499.9 413.7L498.5 434.3M498.5 434.3L510.3 455L507.3 466.7L483.7 499.2L461.6 522.7L463.1 534.5L469 541.9L454.3 572.8L444 617.9M579.5 272.3L570.7 301.7L564.8 328.3L572.1 343L573.6 366.6L586.9 387.2L595.7 413.7L614.9 425.5L601.6 455L591.3 481.5L597.2 491.8L614.9 484.4L620.7 491.8L622.2 516.8L631.1 543.4L639.9 558.1L642.8 569.9L669.4 568.4L701.8 575.8L707.7 566.9L719.5 578.7L728.3 555.1L756 558.1M719.5 578.7L716.5 617.9M119.9 568.4L195 593.4L262.8 617.9M634 180.9L647.3 192.7L648.7 222.2L639.9 248.7L645.8 263.4L656.1 287.6M253.9 618L296.6 629.8L427.8 668.1L560.3 703.4L692.9 730M296.6 629.8L245.1 803.6L395.4 1054.1M442.5 622.4L427.8 668.1M560.3 703.4L527.9 841.9L483.7 1036.4L472 1054.1L463.1 1051.1L454.3 1045.2L442.5 1051.1L442.5 1057.9M498.5 1001L619.3 1027.5L756 1054.1M716.5 618L704.7 676.9L692.9 730L682.6 791.8L756 805.1M756 889.1L743 971.6L731.2 1057.9M398.3 1058L432.2 1111M442.5 1058L439.5 1087.5L432.2 1111M432.2 1111L436.6 1134.6L446.9 1156.7L424.8 1175.9L418.9 1196.5L404.2 1211.2L402.7 1223L410.1 1234.8L404.2 1249.5L390.9 1249.5M731.2 1058L716.5 1146.4L695.9 1264.2L672.3 1393.9M842.9 179.5L816.4 321.5M1163.2 179.5L1160.2 365.1M1408.6 179.5L1408.6 348.9M1053.6 356.3L1046.2 443.2L1035.9 540.4L1027.1 596.4L1025.6 617.9M1035.9 540.4L1139 550.7L1227.4 556.6L1349.7 559.6M756 558.1L903.3 581.7L1027.1 596.4M1327.6 373.1L1329.1 428.4L1339.4 460.9L1340.9 513.9L1351.2 546.3L1349.7 564L1337.9 577.2L1342.3 587.5L1354.1 596.4L1354.1 617.9M1025.6 618L1015.3 718.2L1002 839M1015.3 718.2L1139 730L1262.8 737.3L1283.4 747.6L1298.1 744.7L1309.9 744.7L1324.7 753.5L1345.3 765.3M756 803.6L873.9 824.2L1002 839L1093.4 849.3M772.2 815.4L763.4 853.7L756 897.9M1093.4 849.3L1088.9 909.7L1078.6 1057.9M1088.9 909.7L1256.9 918.5L1399.8 921.5M1354.1 618L1352.6 706.4L1345.3 712.3L1351.2 727L1345.3 753.5L1345.3 765.3L1357.1 783L1367.4 803.6L1368.8 824.2L1377.7 841.9L1379.2 874.3L1386.5 900.9L1396.8 909.7L1399.8 921.5L1423.4 933.3L1416 948L1424.8 965.7L1436.6 974.5L1438.1 1057.9M1352.6 707.9L1482 706.4M1386.5 884.6L1482 883.2M756 1052.6L794.3 1057.9M773.7 1058L903.3 1074.2L1027.1 1087.5L1074.2 1091.9L1198 1100.7L1345.3 1105.1L1439.6 1105.1M1078.6 1058L1074.2 1091.9M1027.1 1087.5L1022.6 1118.4L1012.3 1211.2L1000.5 1323.2L991.7 1395.4M1022.6 1118.4L1171.4 1130.2L1167 1246.6M1167 1246.6L1180.3 1259.8L1198 1258.4L1206.8 1271.6L1233.3 1277.5L1242.2 1281.9L1259.8 1279L1268.7 1290.8L1274.6 1296.7L1283.4 1289.3L1301.1 1298.1L1309.9 1305.5L1318.8 1293.7L1333.5 1298.1L1352.6 1308.4L1370.3 1298.1L1389.5 1293.7L1399.8 1298.1L1410.1 1293.7L1430.7 1307L1448.4 1312.9L1470.5 1317.3M1439.6 1058L1439.6 1137.6L1448.4 1199.4L1448.4 1311.4M1439.6 1136.1L1482 1134.6M1470.5 1317.3L1472 1352.6L1482 1351.2M1472 1352.6L1472 1414.5L1482 1424.8M803.1 1373.3L903.3 1385L991.7 1395.4M1538 510.9L1558.6 487.4L1576.3 469.7L1594 449.1L1626.4 431.4L1647 422.5L1658.8 396L1682.4 369.5L1688.2 360.7L1705.9 366.6L1726.5 369.5L1747.2 365.1L1760.4 366.6L1769.3 384.2L1779.6 401.9L1791.4 412.2L1829.7 410.8L1826.7 429.9L1844.4 444.6L1840 460.9L1857.7 471.2L1856.2 481.5L1847.4 496.2L1835.6 496.2L1831.1 481.5L1814.9 481.5L1797.3 481.5L1779.6 496.2L1761.9 506.5L1744.2 506.5L1734.5 503L1728 496.2L1720.1 488.5L1711.8 484.4L1698.6 484.4L1694.1 472.6L1711.8 457.9L1714.8 450.5L1701.5 447.6L1688.2 460.9L1676.5 469.7L1658.8 484.4L1641.1 496.2L1623.4 502.1L1608.7 513.9L1594 508L1591 496.2L1605.7 487.4L1594 481.5L1573.3 499.2L1555.7 502.1L1538 510.9M1647 422.5L1688.2 401.9L1835.6 469.7L1870.9 496.2M2009.4 201.6L2021.2 266.4L2035.9 331.2L2049.2 401.9L2059.5 422.5L2091.9 457.9L2109.6 462.3L2144.9 462.3L2171.5 475.6L2180.3 472.6L2198 487.4L2208 488.8M1538 502.1L1530.6 513.9L1530.6 546.3L1508.5 564L1507 575.8L1517.4 590.5L1512.9 617.9M1594 505L1617.5 522.7L1647 531.6L1688.2 543.4L1708.9 549.2L1723.6 564L1726.5 581.7L1735.4 596.4M1651.4 397.5L1685.3 362.1L1697.1 360.7L1694.1 372.5L1664.7 401.9L1654.4 434.3L1651.4 397.5M1796.4 618L1789.9 650.4L1791.4 676.9L1809 706.4L1812 735.9L1806.1 765.3L1794.3 783L1776.6 802.1L1761.9 802.1L1756 783L1744.2 768.3L1741.3 735.9L1732.4 706.4L1738.3 662.2L1745.1 618M1950.5 785.9L1947.5 762.4L1953.4 756.5L1965.2 756.5L1982.9 750.6L2009.4 730L2018.2 709.3L2027.1 703.4L2041.8 700.5L2068.3 697.6L2086 693.1L2106.6 682.8L2124.3 672.5L2134.6 671L2134.6 676.9L2124.3 694.6L2106.6 712.3L2089 721.1L2071.3 737.3L2059.5 741.7L2041.8 753.5L2027.1 769.7L2012.3 778.6L1988.8 787.4L1968.2 788.9L1950.5 785.9M1965.2 715.2L1982.9 715.2L1982.9 730L1968.2 731.4L1965.2 715.2M1512.9 622.4L1514.4 629.8L1540.9 647.5L1555.7 662.2L1573.3 671L1580.7 679.9L1583.6 703.4L1589.5 715.2L1589.5 735.9L1596.9 747.6L1610.2 753.5L1616.1 762.4M1482 706.4L1580.7 703.4M1616.1 762.4L1741.3 752.1M1616.1 762.4L1629.3 777.1L1638.2 788.9L1632.3 809.5L1623.4 821.3L1604.3 828.7L1598.4 836L1602.8 846.3L1605.7 856.7L1596.9 874.3L1585.1 886.1L1583.6 893.5M1482 883.2L1567.4 878.8L1576.3 886.1L1583.6 893.5M1583.6 893.5L1582.2 909.7L1588.1 930.3L1605.7 945L1620.5 962.7L1627.8 978.9L1638.2 978.9L1651.4 984.8L1642.6 1017.2L1652.9 1030.5L1670.6 1039.3L1688.2 1057.9M1759 802.1L1764.9 853.7L1772.2 912.6L1772.2 942.1L1767.8 953.9L1776.6 974.5L1770.7 992.2L1757.5 1012.8L1757.5 1039.3L1753.1 1057.9M1794.3 791.8L1881.2 781.5L1947.5 774.2M1881.2 781.5L1894.5 868.4L1901.9 940.6M1757.5 1033.4L1782.5 1027.5L1798.7 1033.4L1812 1023.1L1825.3 1026.1L1835.6 1009.9L1850.3 1017.2L1862.1 998.1L1876.8 970.1L1888.6 970.1L1906.3 958.3L1901.9 940.6M1901.9 940.6L1921 940.6L1932.8 953.9L1959.3 961.3L1977 959.8L1996.1 952.4L2015.3 967.1L2024.1 965.7L2033 939.2L2043.3 927.4L2049.2 909.7L2068.3 897.9L2081.6 880.2L2087.5 833.1L2081.6 821.3M2071.3 737.3L2081.6 821.3L2097.8 872.9M2100.7 725.5L2112.5 728.5L2208 706.4M2097.8 872.9L2208 850.8M2015.3 967.1L2016.8 986.3L2035.9 1009.9L2053.6 1021.7L2065.4 1033.4L2083.1 1030.5L2100.7 1021.7L2130.2 1006.9L2136.1 992.2L2144.9 962.7L2153.8 933.3L2171.5 936.2L2180.3 912.6L2200.9 895L2203.9 871.4L2189.1 865.5L2174.4 874.3L2153.8 892L2147.9 871.4M2018.2 1057.9L2047.7 1024.6M2144.9 1057.9L2208 1048.2M1977 684.3L1979.9 715.2M1968.2 731.4L1953.4 741.7M1957.8 775.9L1979.9 766.2L2004.4 751.8L2026.2 732.3L2050.7 719.9L2075.1 710.2L2099.3 697.8L2128.4 679.9M1486.4 1136.1L1655.8 1127.2L1666.1 1136.1L1651.4 1159.6L1685.3 1156.7M1685.3 1058L1691.2 1075.7L1700 1090.4L1708.9 1093.4L1710.3 1105.1L1703 1119.9L1688.2 1127.2L1685.3 1156.7L1676.5 1175.9L1667.6 1196.5L1669.1 1208.3L1658.8 1218.6L1647 1237.7L1645.5 1252.5L1629.3 1276L1626.4 1296.7L1617.5 1311.4L1623.4 1332L1620.5 1345.3L1626.4 1367.4L1636.7 1385L1623.4 1411.6L1611.6 1435.1L1604.3 1464.6L1601.3 1472M1688.2 1125.8L1759 1119.9L1764.9 1108.1L1979.9 1086L2071.3 1071.3L2208 1058M1710.3 1081.6L1738.3 1084.5L1738.3 1069.8L1756 1058M1661.7 1218.6L1769.3 1211.2L1894.5 1196.5L2021.2 1180.3M1769.3 1211.2L1772.2 1352.6L1769.3 1411.6L1776.6 1470.5L1781.1 1497.9M1894.5 1196.5L1918.1 1279L1935.7 1323.2L1953.4 1360L1946.1 1388L1953.4 1426.3L1956.4 1441L1968.2 1455.8M2021.2 1180.3L2012.3 1196.5L2038.9 1211.2L2059.5 1234.8L2086 1252.5L2109.6 1279L2133.1 1311.4L2150.8 1329.1L2162.6 1340.9M2021.2 1180.3L2056.5 1161.1L2121.4 1153.8L2139 1161.1L2142 1170L2195 1161.1L2208 1170M1962.3 1187.6L1962.3 1172.9L1982.9 1152.3L2021.2 1125.8L2041.8 1114L2065.4 1093.4L2077.2 1071.3M1979.9 1086L2012.3 1058M1820.8 1455.8L1956.4 1439.6M1820.8 1455.8L1822.3 1467.5L1831.1 1476.4M1968.2 1455.8L2115.5 1444L2121.4 1429.2L2144.9 1426.3M2115.5 1444L2124.3 1449.9L2115.5 1455.8M1482 1349.7L1620.5 1345.3M1601.3 1472L1703 1466.1L1705.9 1476.4L1701.5 1488.2L1707.4 1497.9M1482 1423.4L1496.7 1455.8L1499.7 1476.4L1495.3 1497.9M1492.5 1498L1494 1527.9L1485 1548.9M1710.9 1498L1715.4 1513M2546.8 225.1L2532.1 236.9L2520.3 241.3L2511.5 238.4L2499.7 241.3L2486.4 248.7L2486.4 263.4L2492.3 272.3L2487.9 281.1L2476.1 292.9M2281.7 502.1L2269.9 508L2258.1 521.3L2246.3 540.4L2234.5 558.1M2208 488.8L2225.7 488.8L2252.2 472.6L2275.8 462.3L2287.6 463.8L2286.1 481.5L2293.4 484.4M2340.6 488.8L2349.4 525.7L2355.3 555.1L2359.7 568.4L2367.1 566.9L2373 590.5L2378.9 617.9M2414.2 462.3L2415.7 478.5L2421.6 487.4L2414.2 499.2L2405.4 510.9L2409.8 531.6L2403.9 555.1L2408.4 584.6L2411.3 605.2M2431.9 452L2443.7 487.4L2458.4 525.7L2470.2 549.2L2477.6 556.6M2378.9 617L2411.3 605.2L2464.3 593.4L2479.1 578.7M2381.8 618L2381.8 653.4L2390.7 691.7L2396.6 706.4L2389.2 718.2M2381.8 657.8L2452.5 640.1L2474.6 634.2L2482 647.5M2455.5 640.1L2467.3 675.5M2208 706.4L2299.3 685.8L2314.1 691.7L2322.9 709.3L2337.6 715.2L2378.9 727M2337.6 715.2L2325.9 741.7L2330.3 750.6L2327.3 762.4L2337.6 774.2L2355.3 787.4L2346.5 797.7M2208 850.8L2290.5 828.7L2324.4 813.9M2320 833.1L2337.6 897.9L2368.6 892M2219.8 853.7L2228.6 862.5L2230.1 880.2M2208 869.9L2225.7 877.3M2234.5 867L2275.8 886.1M2208 1046.7L2281.7 1030.5L2352.4 1015.8M2208 1168.5L2262.5 1203.8"/>
<path fill="none" stroke="#000" stroke-width="4.4" stroke-linejoin="round" stroke-linecap="round" d="M236.2 197.2L231.8 213.4L233.3 236.9L230.4 260.5L228.9 281.1L239.2 290L225.9 294.4L230.4 307.6L221.5 316.5L215.6 328.3L218.6 337.1L206.8 366.6L195 396L177.3 431.4L159.6 466.7L142 490.3L122.8 516.8L121.3 537.5L115.4 558.1L119.9 569.9L112.5 587.5L114 599.3L103.7 617.9M236.2 197.2L253.9 210.4L274.5 225.1L289.3 231L298.1 238.4L309.9 235.5M234.8 179.5L259.8 200.1L280.4 216.3L290.8 210.4L289.3 195.7L286.3 179.5M215.6 328.3L236.2 332.7L242.1 343L251 345.9M103.7 618L99.2 629.8L88.9 640.1L77.1 650.4L75.7 665.1L81.6 679.9L87.5 697.6L84.5 712.3L78.6 727L77.1 741.7L74.2 753.5L80.1 768.3L86 783L91.9 791.8L93.3 803.6L87.5 818.4L97.8 827.2L109.6 836L103.7 841.9L100.7 853.7L99.2 871.4L108.1 889.1L119.9 897.9L118.4 909.7L108.1 918.5L105.1 933.3L115.4 956.8L119.9 974.5L130.2 992.2L136.1 1001L133.1 1012.8L142 1024.6L137.5 1042.3L131.6 1057.9M133.1 1058L142 1065.4L156.7 1068.3L174.4 1078.6L189.1 1090.4L192.1 1102.2L209.7 1114L224.5 1119.9L227.4 1131.7L224.5 1139L236.2 1140.5L248 1152.3L259.8 1170L268.7 1193.5L268.7 1211.2L265.7 1218.6L270.1 1223L269.2 1234.8L274.5 1249.5L274.5 1264.2L284.9 1277.5L277.5 1283.4L277.5 1293.7L286.3 1314.3L289.3 1326.1L286.3 1335L296.6 1348.2L293.7 1371.8L301.1 1379.2L296.6 1401.3L299.6 1414.5L321.7 1442.5L332 1449.9L345.3 1473.4L358.5 1497.9M404.2 1497.9L405.7 1485.2L396.8 1467.5L383.6 1446.9L379.1 1436.6L370.3 1427.8L362.9 1411.6L361.5 1399.8L365.9 1382.1L367.4 1358.5L362.9 1342.3L371.8 1314.3L371.8 1295.2L383.6 1308.4L395.4 1321.7L405.7 1329.1L414.5 1330.5L418.9 1324.6L432.2 1336.4L432.2 1346.7L460.2 1361.5L458.7 1368.8L454.3 1370.3L451.3 1385L455.8 1402.7L460.2 1420.4L461.6 1441L466.1 1458.7L472 1473.4L470.5 1482.3L477.8 1488.2L477.8 1497.9M408.6 1454.3L416 1461.7L418.9 1470.5L426.3 1476.4L424.8 1492.6L416 1482.3L408.6 1467.5L408.6 1454.3M460.2 1497.9L466.1 1491.1L477.8 1489.6M357.6 1498L365.1 1507L368.1 1518.9L359.1 1536.9L351.7 1545.9L344.2 1550.4L332.2 1553.4L317.3 1547.4L303.8 1542.9L305.3 1551.9L317.3 1565.3L326.2 1575.8L326.2 1587.8L335.2 1595.2L344.2 1599.7L350.2 1610.2L359.1 1613.2L365.1 1628.2L369.6 1631.2L378.6 1628.2L387.6 1629.7L396.5 1622.2L393.6 1635.6L398 1646.1L414.5 1667.1L429.5 1677.5L435.4 1692.5L438.4 1707.5L436.9 1719.4L438.4 1725.4L432.5 1743.4L428 1755.3L426.5 1764.3L432.5 1773.3L439.9 1782.3L441.4 1788.2L447.4 1789.7L454.9 1801.7L466.9 1813.7L478.8 1825.6L487.8 1839.1L495.3 1848.1L498.3 1854.1L511.7 1864.5L516.2 1878L520.7 1885.5L520.7 1899L523.7 1912.4L529.7 1915.4L538.7 1913.9L549.2 1906.4L559.6 1901.9L565.6 1890L565.6 1881L561.1 1875L553.6 1870.5L552.1 1860.1L546.2 1845.1L538.7 1833.1L529.7 1822.7L523.7 1818.2L520.7 1827.1L516.2 1833.1L511.7 1827.1L505.8 1824.2L502.8 1812.2L502.8 1797.2L508.8 1785.3L507.3 1776.3L499.8 1761.3L496.8 1743.4L496.8 1735.9L489.3 1729.9L484.8 1716.4L486.3 1692.5L483.3 1671.5L480.3 1656.6L469.9 1643.1L466.9 1647.6L460.9 1635.6L462.4 1628.2L451.9 1617.7L448.9 1596.7L438.4 1584.8L429.5 1571.3L432.5 1551.9L432.5 1533.9L420.5 1526.4L419 1507L413 1502.5L411.5 1498M477.3 1498L478.8 1510L487.8 1523.4L496.8 1544.4L507.3 1553.4L514.7 1572.8L522.2 1583.3L532.7 1589.3L553.6 1595.2L546.2 1605.7L546.2 1620.7L552.1 1635.6L561.1 1644.6L577.6 1650.6L577.6 1665.6L583.6 1676L598.5 1677.5L609 1692.5L610.5 1704.5L615 1710.4L609 1707.5L598.5 1714.9L594 1722.4L592.5 1740.4L597 1749.3L607.5 1752.3L622.5 1744.9L609 1756.8L609 1761.3L625.5 1758.3L626.9 1767.3L643.4 1780.8L652.4 1788.2L664.4 1795.7L658.4 1798.7L649.4 1792.7L661.4 1813.7L662.9 1824.2L671.8 1831.6L689.8 1837.6L689.8 1846.6L673.3 1836.1L691.3 1854.1L710.7 1872L721.2 1890L733.2 1910.9L742.1 1931.9L749.6 1940.8L755.9 1945M460.9 1498L454.9 1511.5L462.4 1518.9L468.4 1520.4L475.8 1507L477.3 1498M300.8 1507L297.8 1516L290.3 1521.9L299.3 1529.4L303.8 1521.9L305.3 1511.5L300.8 1507M413 1767.3L429.5 1737.4M417.5 1768.8L422 1785.3L442.9 1803.2L433.9 1786.7L422 1785.3M344.2 1550.4L347.2 1562.3L356.2 1566.2L351.7 1556.3L354.7 1548.9L347.2 1547.4M508.8 1768.8L514.7 1767.3L518.3 1782.3L513.2 1780.8L508.8 1768.8M1481.9 1557.8L1468.1 1560.8L1447.2 1569.8L1435.2 1580.3L1414.3 1593.8L1399.3 1607.2L1381.4 1617.7L1363.4 1629.7L1354.4 1634.1L1342.5 1644.6L1324.5 1656.6L1309.6 1668.6L1299.1 1686.5L1291.6 1701.5L1287.1 1713.4L1287.1 1731.4L1291.6 1752.3L1296.1 1770.3L1299.1 1788.2L1300.6 1800.2L1296.1 1818.2L1285.6 1836.1L1278.1 1854.1L1270.7 1878L1264.7 1904.9L1261.7 1925.9L1261.1 1940.8M1435.2 1580.3L1424.8 1572.8L1420.3 1557.8L1427.8 1556.3L1429.2 1562.3L1433.7 1554.9L1438.2 1554.9L1436.7 1565.3L1447.2 1569.8M1363.4 1629.7L1347 1623.7L1345.5 1629.7L1338 1634.1L1332 1620.7L1336.5 1617.7L1341 1625.2L1347 1622.2L1366.4 1625.2M1342.5 1644.6L1324.5 1650.6L1321.5 1640.1L1326 1638.6L1329 1646.1L1342.5 1641.6M1309.6 1668.6L1315.5 1652.1L1302.1 1659.6L1309.6 1661.1L1306.6 1671.5L1294.6 1683.5L1287.1 1674.5L1294.6 1673L1297.6 1677.5M1287.1 1713.4L1270.7 1710.4L1266.2 1698.5L1278.1 1706L1284.1 1707.5M1285.6 1713.4L1278.1 1729.9L1281.1 1746.4L1285.6 1764.3L1297.6 1786.7M2208 1292.2L2189.1 1302.5L2174.4 1308.4L2168.5 1317.3L2180.3 1320.2L2171.5 1335L2159.7 1352.6L2156.7 1367.4L2150.8 1388L2146.4 1399.8L2147.9 1426.3L2156.7 1449.9L2171.5 1479.3L2186.2 1498.8M1482 1553.4L1517.9 1551.9L1541.8 1559.3L1571.8 1562.3L1580.7 1553.4L1592.7 1547.4L1607.7 1553.4L1622.6 1562.3L1628.6 1577.3L1658.5 1584.8L1673.5 1574.3L1688.5 1584.8L1694.4 1562.3L1709.4 1568.3L1721.4 1575.8L1736.3 1587.8L1751.3 1577.3L1742.3 1569.8L1727.4 1562.3L1713.9 1551.9L1730.4 1536.9L1724.4 1527.9L1712.4 1530.9L1709.4 1521.9L1730.4 1511.5L1763.3 1502.5L1796.5 1480L1809.6 1496.5L1842.9 1486.6L1888.9 1480L1928.7 1493.2L1936.8 1507L1947.3 1516L1948.8 1523.4L1966.7 1518.9L1984.7 1511.5L2001.2 1493.2L2020.9 1489.9L2047.5 1503.1L2068.5 1527.9M1673.5 1520.4L1679.5 1508.5L1691.5 1507L1703.4 1516L1697.4 1524.9L1685.5 1527.9L1673.5 1520.4M1583.7 1557.8L1592.7 1554.9L1601.7 1562.3L1597.2 1566.8L1583.7 1557.8M2068.5 1527.9L2098.4 1545.9L2108.9 1557.8L2108.9 1578.8L2105.9 1614.7L2110.4 1623.7L2119.3 1617.7L2116.4 1611.7L2129.8 1613.2L2122.3 1635.6L2116.4 1640.1L2134.3 1662.6L2149.3 1676L2158.2 1668.6L2161.2 1689.5L2155.2 1695.5L2164.2 1701.5L2173.2 1683.5L2173.2 1695.5L2185.2 1719.4L2197.1 1728.4L2207.9 1731.4M2182.2 1498L2207.9 1527.9M2116.4 1939.4L2140.3 1928.9L2167.2 1921.4L2185.2 1912.4L2207.9 1906.4M2667.6 239.9L2673.5 236.9L2679.4 254.6L2697.1 263.4L2714.8 257.6L2738.3 248.7L2761.9 238.4L2764.9 241.3L2753.1 254.6L2750.1 269.3L2738.3 278.2L2720.7 279.6L2703 275.2L2685.3 273.8L2670.6 266.4L2664.7 257.6L2667.6 239.9M2485 617.9L2486.4 602.3L2495.3 589L2482 578.7L2480.5 564L2486.4 546.3L2492.3 525.7L2495.3 513.9L2511.5 510.9L2514.4 497.7L2532.1 487.4L2538 475.6L2532.1 463.8L2536.5 452L2546.8 468.2L2555.7 460.9L2567.5 449.1L2576.3 437.3L2594 422.5L2601.3 410.8L2596.9 397.5L2588.1 391.6L2602.8 394.6L2617.5 384.2L2629.3 369.5L2629.3 362.1L2644.1 354.8L2661.7 337.1L2676.5 319.4L2679.4 312.1L2688.3 304.7L2685.3 316.5L2676.5 331.2L2675 345.9L2691.2 347.4L2697.1 338.6L2714.8 328.3L2738.3 322.4L2714.8 343L2708.9 351.8L2697.1 343L2685.3 357.7L2673.5 378.4L2661.7 396L2650 410.8L2644.1 428.4L2650 437.3L2661.7 452L2682.4 463.8L2697.1 460.9L2698.6 449.1L2708.9 437.3L2720.7 407.8L2726.6 384.2L2738.3 375.4L2750.1 366.6L2761.9 351.8L2785.5 334.2L2803.2 316.5L2820.6 301.7M2617.5 178L2611.7 189.8L2599.9 201.6L2573.4 204.5L2555.7 216.3L2546.8 225.1L2570.4 222.2L2588.1 220.7L2599.9 226.6L2614.6 213.4L2626.4 210.4L2632.3 234L2620.5 256.1L2638.2 253.1L2650 266.4L2664.7 287L2676.5 290L2697.1 287L2691.2 298.8L2708.9 295.9L2732.5 294.4L2753.1 292.9L2767.8 287L2779.6 272.3L2794.3 275.2L2809.1 272.3L2803.2 263.4L2792.9 248.7L2794.3 222.2L2797.3 189.8L2806.1 178M2467.3 178L2452.5 198.6L2443.7 219.2L2434.9 245.8L2427.5 257.6L2426 281.1L2418.7 304.7L2411.3 325.3L2396.6 343L2390.7 354.8M2508.5 178L2487.9 195.7L2467.3 216.3L2452.5 239.9L2440.8 266.4L2431.9 295.9L2423.1 319.4L2408.4 337.1L2396.6 348.9M2511.5 618L2518.8 632.7L2532.1 634.2L2543.9 629.8L2538 618M2543.9 631.3L2529.2 638.6L2514.4 644.5L2508.5 653.4L2490.9 650.4L2482 668.1L2467.3 676.9L2443.7 688.7L2420.1 697.6L2399.5 715.2L2387.7 730L2378.9 744.7L2373 756.5L2378.9 759.4L2387.7 765.3L2392.1 783L2392.1 806.6L2384.8 824.2L2377.4 841.9L2368.6 859.6L2361.2 844.9L2346.5 844.9L2331.7 833.1L2327.3 824.2L2331.7 812.5L2343.5 800.7L2349.4 791.8M2380.4 750.6L2399.5 734.4L2420.1 719.6L2443.7 706.4L2458.4 699L2452.5 706.4L2468.8 697L2449.6 712.9L2431.9 724.1L2414.2 734.4L2396.6 744.7L2380.4 752.1M2331.7 834.6L2340.6 844.9L2352.4 859.6L2361.2 874.3L2368.6 886.1L2370.1 900.9L2367.1 918.5L2361.2 930.3L2355.3 950.9L2352.4 977.5L2346.5 980.4L2343.5 962.7L2346.5 942.1L2349.4 927.4L2337.6 924.4L2334.7 906.7L2320 900.9L2314.1 892L2305.2 877.3L2308.2 865.5L2305.2 850.8L2308.2 839M2305.2 839L2296.4 850.8L2287.6 862.5L2293.4 874.3L2296.4 889.1L2302.3 900.9L2311.1 912.6L2320 924.4L2321.4 948L2324.4 959.8L2328.8 971.6L2325.9 986.3L2331.7 989.2L2346.5 998.1L2355.3 1012.8L2367.1 1030.5L2378.9 1045.2L2390.7 1057.9M2378.9 1058L2377.4 1069.8L2367.1 1084.5L2358.3 1087.5L2348 1090.4L2343.5 1086L2337.6 1087.5L2317 1088.9L2337.6 1094.8L2345 1097.8L2343.5 1111L2337.6 1116.9L2320 1112.5L2331.7 1121.3L2343.5 1119.9L2355.3 1115.5L2368.6 1114L2358.3 1134.6L2346.5 1131.7L2355.3 1127.2L2322.9 1139L2311.1 1142L2315.5 1152.3L2302.3 1170L2294.9 1181.7L2292 1196.5L2269.9 1202.4L2258.1 1211.2L2246.3 1228.9L2238.9 1246.6L2237.5 1253.9L2222.7 1268.7L2213.9 1283.4L2208 1290.8M2384.8 1058L2393.6 1069.8L2396.6 1086L2390.7 1090.4M2208 1533.9L2220 1548.9L2228.9 1557.8L2227.4 1569.8L2237.9 1590.8L2249.9 1611.7L2263.4 1634.1L2272.3 1647.6L2278.3 1668.6L2281.3 1695.5L2281.3 1719.4L2276.8 1731.4L2273.8 1752.3L2267.8 1761.3L2258.9 1761.3L2249.9 1768.8L2237.9 1768.8L2231.9 1773.3L2227.4 1764.3L2236.4 1761.3L2226 1755.3L2217 1740.4L2208 1731.4M2208 1906.4L2228.9 1906.4L2246.9 1901.9L2252.9 1906.4L2267.8 1900.5L2284.3 1897.5L2294.8 1903.4L2306.7 1904.9L2318.7 1901.9L2333.7 1904.9L2345.6 1910.9L2357.6 1919.9L2375.6 1927.4L2393.5 1922.9L2411.5 1921.4L2435.4 1928.9L2453.4 1934.9L2465.3 1940.8L2477.3 1942.3L2478.8 1928.9L2462.3 1930.4M2333.7 1652.1L2348.6 1661.1L2375.6 1647.6L2395 1640.1L2393.5 1635.6L2372.6 1641.6L2357.6 1644.6L2354.6 1640.1L2351.6 1650.6L2333.7 1652.1M2390.5 1625.2L2399.5 1620.7L2414.5 1620.7L2429.4 1629.7L2444.4 1637.1L2450.4 1649.1L2444.4 1661.1L2445.9 1679L2432.4 1674.5L2439.9 1665.6L2436.9 1644.6L2426.4 1632.6L2414.5 1626.7L2390.5 1625.2M2398 1735.9L2411.5 1735.9L2417.5 1746.4L2433.9 1761.3L2436.9 1774.8L2420.4 1791.2L2414.5 1785.3L2402.5 1780.8L2393.5 1774.8L2402.5 1770.3L2399.5 1764.3L2404 1749.3L2398 1735.9M2424.9 1794.2L2442.9 1786.7L2451.9 1794.2L2457.9 1810.7L2456.4 1819.7L2444.4 1821.8L2439.9 1810.7L2424.9 1794.2M2626.9 1750.8L2632.9 1753.8L2629.9 1762.8L2626.3 1758.3L2626.9 1750.8M2727.2 1928.9L2737.6 1921.4L2752.6 1918.4L2761.6 1907.9L2764.6 1904.9L2766 1916.9L2761.6 1928.9L2743.6 1936.4L2730.1 1939.4L2727.2 1928.9"/>
<path fill="none" stroke="#000" stroke-width="6" stroke-linejoin="round" stroke-linecap="round" d="M321.7 189.8L326.1 207.5L314.3 228.1L323.2 251.7L309.9 266.4L295.2 263.4L274.5 276.7L289.3 281.1L276 291.4L287.8 298.8L304 287L309.9 266.4M204.7 1178.8L208.3 1187.6L212.7 1194.1M463.9 1647.6L471.4 1662.6M490.8 1713.4L495.3 1703L500.4 1701.5M1965.2 1525.5L1984.7 1517.4M2393.6 350.4L2373 369.5L2358.3 381.3L2334.7 407.8L2325.9 431.4L2317 449.1L2296.4 472.6L2281.7 502.1M2511.5 665.1L2524.7 658.7M2538 660.7L2549.8 655.7L2543.9 651M2325.9 1058L2337.6 1059.5M2361.2 1058L2364.2 1068.3M2309.6 1142L2315.5 1152.3M2292 1181.7L2293.4 1195M2236 1242.1L2238.9 1252.5M2279.8 1752.3L2272.3 1770.3L2263.4 1783.8M2252.9 1788.8L2257.4 1787M2237.9 1799.6L2246.9 1795.7M2220 1802.6L2226 1806.2M2208 1811.6L2214 1809.2M2348.6 1904.9L2366.6 1912.4M2483.3 1937.9L2495.3 1940.8M2208 1939.4L2223 1940.8M2546.1 1803.2L2555.1 1807.7L2571.6 1810.7M2734.6 1836.1L2746.6 1834.6L2761.6 1836.7M2438.4 1735.9L2453.4 1732.3M2812.4 1845.1L2818.4 1849.6"/>
<path fill="none" stroke="#000" stroke-width="4.3" stroke-linejoin="round" stroke-linecap="butt" stroke-dasharray="6.2 4.6" d="M321.7 189.2L416 222.2L539.7 260.5L656.1 287.6L756 309.7M237.7 191.3L262.8 219.2L283.4 223.7L305.5 216.3L304 183.9M269.2 1228L390.9 1249.5L386.5 1261.3L569.2 1376.2L672.3 1393.9L716.5 1402.7L719.5 1376.2L756 1379.2M756 309.1L816.4 321.5L1053.6 356.3L1161.1 365.1L1327.6 373.1L1408.6 373.9L1408.6 348.9L1420.4 353.3L1423.4 372.5L1427.8 385.7L1457.2 394.6L1469 401.9L1482 396M756 1380.6L806.1 1388L803.1 1373.3L814.9 1390.9L825.2 1408.6L844.4 1429.2L859.1 1446.9L879.7 1464.6L887.1 1476.4L893 1497.9M893.6 1498L894.2 1513L899.6 1527.9L911.6 1542.9L926.6 1556.3L944.5 1566.8L959.5 1578.8L968.4 1581.8L977.4 1577.3L987.9 1565.3L993.9 1551.9L999.9 1542.9L1007.3 1536.9L1019.3 1533.9L1025.3 1530.9L1034.3 1536.9L1055.2 1539.9L1070.2 1542.9L1077.7 1553.4L1094.1 1565.3L1109.1 1584.8L1113.6 1602.7L1122.5 1620.7L1127 1635.6L1134.5 1647.6L1145 1661.1L1155.5 1674.5L1165.9 1683.5L1168.9 1695.5L1168.9 1713.4L1171.9 1722.4L1179.4 1731.4L1183.9 1743.4L1185.4 1755.3L1191.4 1762.8L1204.8 1765.8L1218.3 1774.8L1234.8 1782.3L1249.7 1786.7L1267.7 1789.7L1282.6 1798.7L1293.1 1795.7M1482 396L1505.6 399L1520.3 413.7L1538 412.2L1558.6 427L1582.2 416.7L1591 422.5L1614.6 421.1L1626.4 428.4L1647 422.5M2414.2 462.3L2417.2 443.2L2429 440.2L2440.8 422.5L2437.8 416.7L2448.1 396L2443.7 372.5L2448.1 354.8L2443.7 343L2452.5 310.6L2459.9 291.4L2470.2 290L2473.2 300.3L2485 295.9L2499.7 284.1L2523.3 291.4L2535 325.3L2549.8 360.7L2551.3 371L2566 369.5L2579.2 393.1L2588.1 394.6M2281.7 502.1L2340.6 484.4L2414.2 462.3"/>
<path fill="none" stroke="#000" stroke-width="5" stroke-linejoin="round" stroke-linecap="round" d="M109.6 836L111 821.3L118.4 818.4L127.2 827.2L136.1 825.7L156.7 837.5M109.6 836L112.5 850.8L119.9 862.5L116.9 841.9M130.2 1088.9L136.1 1091.9M1414.3 1593.8L1429.2 1584.8L1435.2 1580.3M1354.4 1634.1L1366.4 1628.2M1956.4 192.7L1965.2 180.9M1994.7 180.9L2018.2 203M2168.5 1317.3L2172.9 1312.9L2177.3 1324.6M2146.4 1399.8L2152.3 1411.6L2149.4 1426.3M1757.3 1521.9L1761.8 1533.9L1755.8 1545.9M1764.8 1508.5L1775.2 1510M1787.2 1507L1799.2 1504M1805.2 1502.5L1823.1 1501M2317 449.1L2308.2 460.9L2287.6 465.3L2296.4 472.6M2371.5 256.1L2399.5 253.1L2427.5 257.6M2373 712.3L2381.8 727L2378.9 744.7M2272.8 883.2L2266.9 895L2264 909.7L2266.9 921.5L2278.7 918.5L2296.4 912.6L2311.1 924.4M2278.7 931.8L2302.3 945L2320 956.8M2302.3 967.1L2317 980.4L2328.8 984.8M2281.7 983.4L2305.2 986.3L2325.9 993.7M2361.2 930.3L2367.1 912.6L2368.6 892M2322.9 1042.3L2331.7 1051.1L2346.5 1045.2L2361.2 1051.1L2373 1057.9M2374.5 1102.2L2384.8 1094.8M2208 1542.9L2218.5 1556.3L2221.5 1569.8L2228.9 1584.8M2407 1910.9L2426.4 1906.4L2441.4 1915.4L2456.4 1922.9L2462.3 1930.4M2477.3 1694L2475.8 1703L2486.3 1698.5L2501.2 1704.5L2519.2 1713.4L2522.2 1734.4L2523.7 1743.4L2511.7 1734.4L2516.2 1732.9L2517.7 1716.4M2547.6 1734.4L2555.1 1740.4L2570.1 1756.8L2582 1761.3L2570.1 1765.8L2573.1 1759.8L2555.1 1743.4L2547.6 1734.4M2588 1792.7L2597 1803.2L2609 1819.7L2601.5 1822.7L2617.9 1824.2L2629.9 1836.1L2626.9 1827.1L2611.9 1819.7M2659.8 1828.6L2665.8 1836.1L2683.8 1834.6L2689.7 1828.6L2694.2 1839.1L2686.8 1854.1L2673.3 1869M2757.1 1888.5L2766 1891.5L2760.1 1896L2757.1 1888.5M2793 1858.6L2804.9 1858.6L2799 1864.5L2793 1858.6"/>
<path fill="none" stroke="#000" stroke-width="4" stroke-linejoin="round" stroke-linecap="round" d="M140.5 1095.7L146.4 1094.8L152.3 1100.7L146.4 1103.7L142 1100.7L140.5 1095.7M156.7 1096.3L167 1099.2L175.8 1102.2L174.4 1105.1L164.1 1103.7L156.7 1096.3M211.2 1151.7L220 1156.7L224.5 1165.5L217.1 1164.1L215 1158.2L211.2 1151.7M143.4 1411.6L149.3 1410.1L152.3 1420.4L149.3 1429.8L145.5 1430.7L143.4 1411.6"/>
<path fill="none" stroke="#000" stroke-width="8" stroke-linejoin="round" stroke-linecap="round" d="M160.2 1149.3L164.1 1152.3"/>
<path fill="none" stroke="#000" stroke-width="7" stroke-linejoin="round" stroke-linecap="round" d="M547.7 1824.2L551.2 1836.1M2198.6 1818.2L2206.1 1814.6M2612.2 409.3L2614.6 419.6M2744.2 183.9L2753.1 191.3L2747.2 195.7M2546.8 468.2L2549.8 472.6"/>
</g>
<rect x="30.5" y="178.5" width="2790.0" height="1763.0" fill="none" stroke="#000" stroke-width="3"/>
<rect x="2994.5" y="1596.7" width="74.0" height="134.8" fill="#053061"/>
<rect x="2994.5" y="1462.4" width="74.0" height="134.8" fill="#256baf"/>
<rect x="2994.5" y="1328.1" width="74.0" height="134.8" fill="#559ec9"/>
<rect x="2994.5" y="1193.8" width="74.0" height="134.8" fill="#a7d0e4"/>
<rect x="2994.5" y="1059.5" width="74.0" height="134.8" fill="#e2edf3"/>
<rect x="2994.5" y="925.2" width="74.0" height="134.8" fill="#fae7dc"/>
<rect x="2994.5" y="790.9" width="74.0" height="134.8" fill="#f7b799"/>
<rect x="2994.5" y="656.6" width="74.0" height="134.8" fill="#dd6f59"/>
<rect x="2994.5" y="522.3" width="74.0" height="134.8" fill="#b6202f"/>
<rect x="2994.5" y="388" width="74.0" height="134.8" fill="#67001f"/>
<path d="M2994.5 388.0L3031.5 321.5L3068.5 388.0Z" fill="#67001f"/>
<path d="M2994.5 1731.0L3031.5 1797.5L3068.5 1731.0Z" fill="#053061"/>
<path d="M2994.5 388.0L3031.5 321.5L3068.5 388.0L3068.5 1731.0L3031.5 1797.5L2994.5 1731.0Z" fill="none" stroke="#000" stroke-width="3.2" stroke-linejoin="miter"/>
<path d="M3068.5 1731h15" stroke="#000" stroke-width="3.3"/>
<text x="3099.5" y="1746.8" class="tk" textLength="63">0.0</text>
<path d="M3068.5 1596.7h15" stroke="#000" stroke-width="3.3"/>
<text x="3099.5" y="1612.5" class="tk" textLength="63">0.1</text>
<path d="M3068.5 1462.4h15" stroke="#000" stroke-width="3.3"/>
<text x="3099.5" y="1478.2" class="tk" textLength="63">0.2</text>
<path d="M3068.5 1328.1h15" stroke="#000" stroke-width="3.3"/>
<text x="3099.5" y="1343.9" class="tk" textLength="63">0.3</text>
<path d="M3068.5 1193.8h15" stroke="#000" stroke-width="3.3"/>
<text x="3099.5" y="1209.6" class="tk" textLength="63">0.4</text>
<path d="M3068.5 1059.5h15" stroke="#000" stroke-width="3.3"/>
<text x="3099.5" y="1075.3" class="tk" textLength="63">0.5</text>
<path d="M3068.5 925.2h15" stroke="#000" stroke-width="3.3"/>
<text x="3099.5" y="941" class="tk" textLength="63">0.6</text>
<path d="M3068.5 790.9h15" stroke="#000" stroke-width="3.3"/>
<text x="3099.5" y="806.7" class="tk" textLength="63">0.7</text>
<path d="M3068.5 656.6h15" stroke="#000" stroke-width="3.3"/>
<text x="3099.5" y="672.4" class="tk" textLength="63">0.8</text>
<path d="M3068.5 522.3h15" stroke="#000" stroke-width="3.3"/>
<text x="3099.5" y="538.1" class="tk" textLength="63">0.9</text>
<path d="M3068.5 388h15" stroke="#000" stroke-width="3.3"/>
<text x="3099.5" y="403.8" class="tk" textLength="63">1.0</text>
<text class="lb" transform="translate(3212.3 1144.5) rotate(-90)" textLength="168">Hit Rate</text>
<text class="tt" x="901.5" y="80" textLength="1045">Hit Rate (Below Normal): CWRF</text>
<text class="tt" x="939" y="154" textLength="976">Variable: T2MAX, Season: JAS</text>
</svg>
</body></html>
